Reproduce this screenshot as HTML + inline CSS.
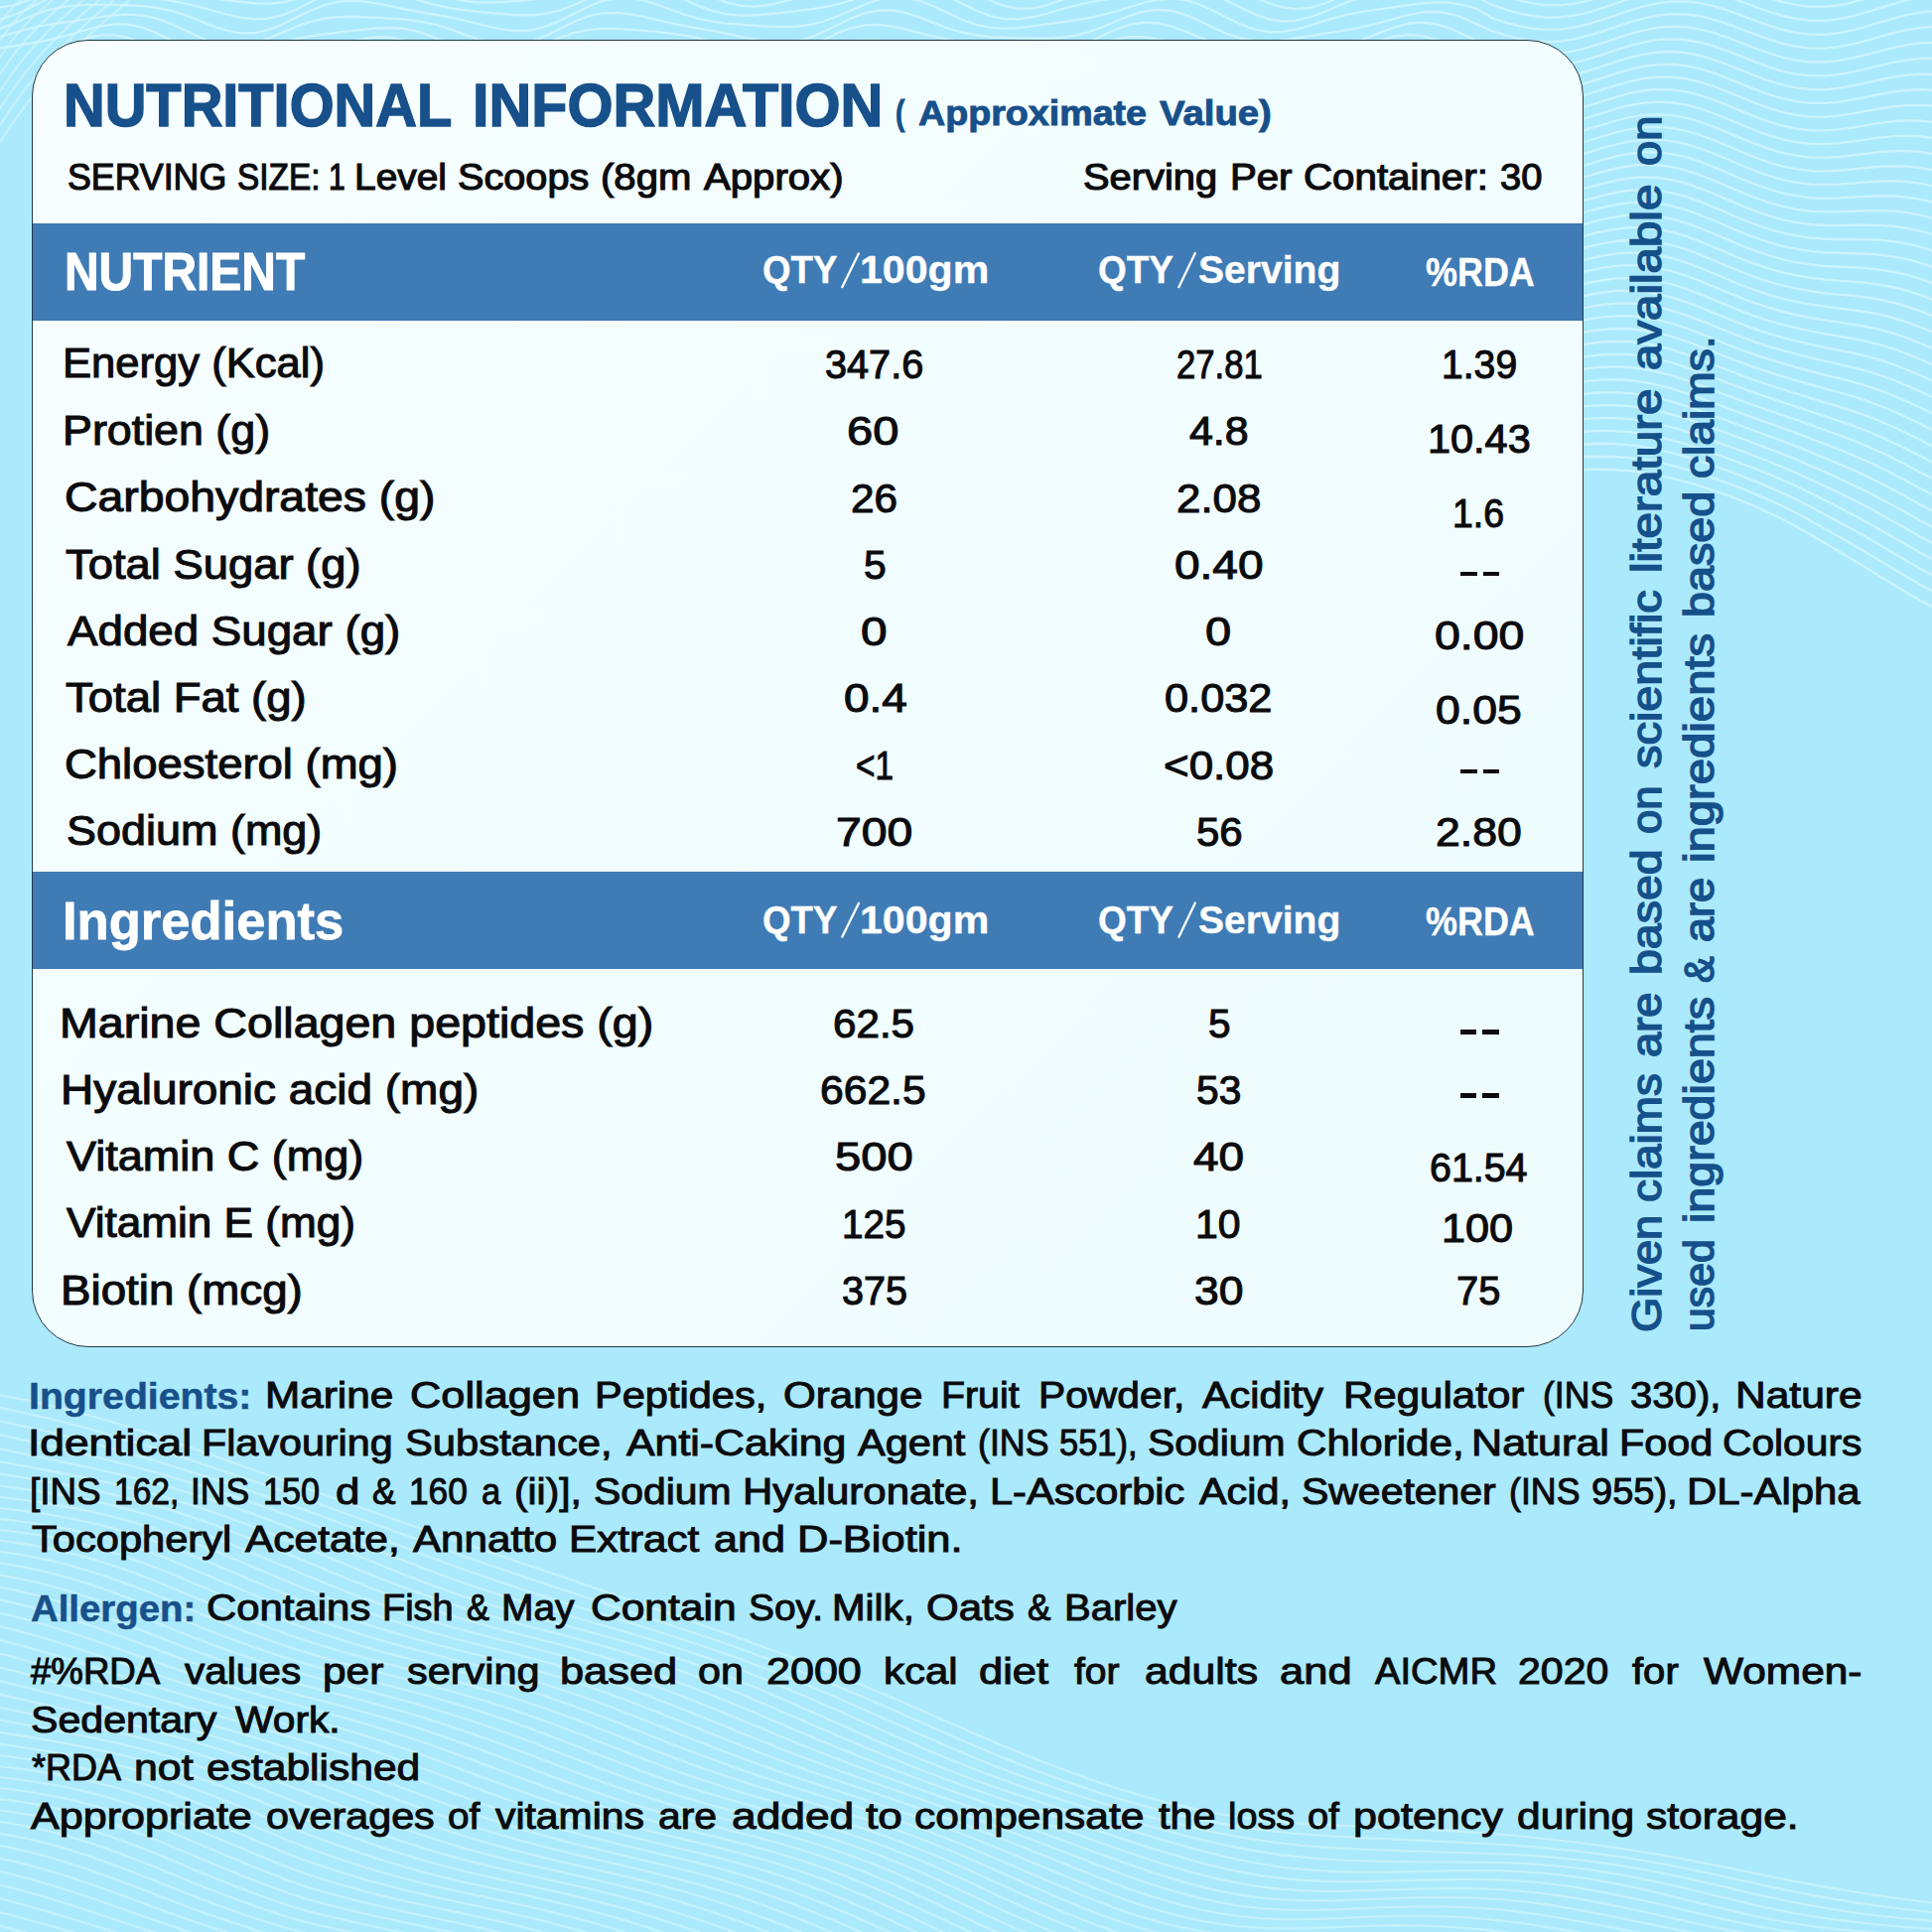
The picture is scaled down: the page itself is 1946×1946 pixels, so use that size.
<!DOCTYPE html>
<html><head><meta charset="utf-8"><title>Nutritional Information</title>
<style>
html,body{margin:0;padding:0}
body{width:1946px;height:1946px;position:relative;overflow:hidden;background:#abe9fc;font-family:"Liberation Sans",sans-serif;}
.wv{position:absolute;left:0;top:0}
.card{position:absolute;left:32.3px;top:40px;width:1560.4px;height:1315px;box-sizing:content-box;border:1.2px solid #1f3a45;border-radius:57px;overflow:hidden;
 background:linear-gradient(135deg,#f8feff 0%,#f2fdfe 40%,#eefcfe 100%);}
.band{position:absolute;left:0;width:100%;height:98.3px;background:#3f7bb5}
.t{position:absolute;white-space:pre;line-height:1;transform-origin:0 0;display:block;color:#0b0b0d;-webkit-text-stroke:1.1px currentColor}
.d{position:absolute;width:16.6px;height:4.4px;background:#0b0b0d;display:block}
</style></head><body>
<svg class="wv" width="1946" height="1946" viewBox="0 0 1946 1946">
<g fill="none" stroke="#d2f7ff" stroke-width="2.4">
<g opacity="0.8"><path d="M-10 -8.8 L4 -7.9 L18 -8.8 L32 -11.8 L46 -16.9 L60 -23.4 L74 -30.4 L88 -36.3 L102 -40.0 L116 -40.8 L130 -38.6 L144 -33.9 L158 -27.9 L172 -21.9 L186 -16.7 L200 -13.1 L214 -11.2 L228 -10.6 L242 -10.7 L256 -11.2 L270 -11.9 L284 -13.0 L298 -14.9 L312 -17.9 L326 -22.2 L340 -27.5 L354 -33.0 L368 -37.5 L382 -40.1 L396 -39.9 L410 -36.8 L424 -31.1 L438 -24.1 L452 -17.0 L466 -11.2 L480 -7.5 L494 -6.4 L508 -7.5 L522 -10.0 L536 -13.3 L550 -16.5 L564 -19.4 L578 -22.0 L592 -24.6 L606 -27.5 L620 -30.8 L634 -34.0 L648 -36.5 L662 -37.6 L676 -36.4 L690 -32.8 L704 -27.0 L718 -19.9 L732 -12.9 L746 -7.2 L760 -4.1 L774 -3.9 L788 -6.4 L802 -11.0 L816 -16.5 L830 -21.8 L844 -26.1 L858 -29.2 L872 -31.0 L886 -32.1 L900 -32.8 L914 -33.3 L928 -33.4 L942 -32.8 L956 -30.8 L970 -27.2 L984 -22.1 L998 -16.1 L1012 -10.1 L1026 -5.5 L1040 -3.2 L1054 -4.0 L1068 -7.7 L1082 -13.6 L1096 -20.6 L1110 -27.1 L1124 -32.3 L1138 -35.3 L1152 -36.1 L1166 -35.2 L1180 -33.3 L1194 -31.0 L1208 -28.7 L1222 -26.4 L1236 -23.9 L1250 -20.9 L1264 -17.2 L1278 -13.0 L1292 -9.0 L1306 -6.1 L1320 -5.1 L1334 -6.8 L1348 -11.1 L1362 -17.5 L1376 -24.8 L1390 -31.7 L1404 -36.9 L1418 -39.4 L1432 -39.1 L1446 -36.4 L1460 -32.1 L1474 -27.4 L1488 -22.9 L1502 -21.9 L1516 -17.0 L1530 -12.6 L1544 -9.3 L1558 -7.4 L1572 -7.1 L1586 -8.4 L1600 -11.3 L1614 -15.3 L1628 -20.0 L1642 -25.0 L1656 -29.6 L1670 -33.4 L1684 -36.0 L1698 -37.0 L1712 -36.3 L1726 -34.1 L1740 -30.6 L1754 -26.1 L1768 -21.1 L1782 -16.3 L1796 -12.0 L1810 -8.9 L1824 -7.2 L1838 -7.2 L1852 -8.8 L1866 -11.8 L1880 -15.9 L1894 -20.8 L1908 -25.7 L1922 -30.3 L1936 -33.9 L1950 -36.2"/><path d="M-10 7.3 L4 7.1 L18 4.2 L32 -1.2 L46 -8.2 L60 -15.5 L74 -21.6 L88 -25.6 L102 -26.8 L116 -25.3 L130 -21.9 L144 -17.4 L158 -13.0 L172 -9.1 L186 -6.1 L200 -3.8 L214 -1.8 L228 0.0 L242 1.8 L256 3.3 L270 3.7 L284 2.5 L298 -0.7 L312 -5.9 L326 -12.3 L340 -19.0 L354 -24.5 L368 -27.8 L382 -28.1 L396 -25.4 L410 -20.3 L424 -14.1 L438 -7.9 L452 -2.8 L466 0.6 L480 2.2 L494 2.4 L508 1.8 L522 0.8 L536 -0.4 L550 -1.8 L564 -3.8 L578 -6.9 L592 -11.1 L606 -16.1 L620 -21.2 L634 -25.3 L648 -27.3 L662 -26.7 L676 -23.1 L690 -17.2 L704 -10.1 L718 -3.1 L732 2.5 L746 5.8 L760 6.5 L774 5.0 L788 1.9 L802 -1.7 L816 -5.3 L830 -8.4 L844 -11.0 L858 -13.5 L872 -16.1 L886 -18.9 L900 -21.6 L914 -23.7 L928 -24.3 L942 -22.8 L956 -18.9 L970 -13.0 L984 -6.0 L998 0.8 L1012 6.1 L1026 8.8 L1040 8.5 L1054 5.4 L1068 0.4 L1082 -5.3 L1096 -10.8 L1110 -15.1 L1124 -18.0 L1138 -19.5 L1152 -20.2 L1166 -20.4 L1180 -20.4 L1194 -20.0 L1208 -19.0 L1222 -16.9 L1236 -13.2 L1250 -8.2 L1264 -2.4 L1278 3.2 L1292 7.3 L1306 9.1 L1320 7.8 L1334 3.7 L1348 -2.5 L1362 -9.6 L1376 -16.1 L1390 -21.0 L1404 -23.7 L1418 -24.1 L1432 -22.7 L1446 -20.3 L1460 -17.5 L1474 -14.9 L1488 -12.4 L1502 -8.6 L1516 -3.8 L1530 0.4 L1544 3.4 L1558 5.1 L1572 5.1 L1586 3.6 L1600 0.6 L1614 -3.6 L1628 -8.3 L1642 -13.2 L1656 -17.7 L1670 -21.3 L1684 -23.5 L1698 -24.2 L1712 -23.3 L1726 -20.7 L1740 -16.9 L1754 -12.2 L1768 -7.1 L1782 -2.2 L1796 2.0 L1810 5.1 L1824 6.8 L1838 6.8 L1852 5.3 L1866 2.3 L1880 -1.8 L1894 -6.4 L1908 -11.1 L1922 -15.3 L1936 -18.5 L1950 -20.5"/><path d="M-10 21.3 L4 18.7 L18 13.5 L32 6.8 L46 -0.0 L60 -5.8 L74 -9.6 L88 -11.2 L102 -10.7 L116 -8.9 L130 -6.5 L144 -4.0 L158 -1.6 L172 0.7 L186 3.4 L200 6.6 L214 10.4 L228 14.3 L242 17.6 L256 19.3 L270 18.7 L284 15.4 L298 9.8 L312 2.8 L326 -4.3 L340 -10.2 L354 -13.8 L368 -14.5 L382 -12.5 L396 -8.6 L410 -3.8 L424 0.9 L438 4.9 L452 7.9 L466 10.0 L480 11.6 L494 13.0 L508 14.3 L522 15.2 L536 15.2 L550 13.7 L564 10.3 L578 5.2 L592 -1.2 L606 -7.5 L620 -12.7 L634 -15.5 L648 -15.3 L662 -12.1 L676 -6.7 L690 -0.2 L704 6.1 L718 11.1 L732 14.3 L746 15.6 L760 15.3 L774 14.2 L788 12.7 L802 11.1 L816 9.4 L830 7.2 L844 4.1 L858 0.1 L872 -4.6 L886 -9.2 L900 -12.8 L914 -14.4 L928 -13.3 L942 -9.4 L956 -3.3 L970 3.9 L984 10.8 L998 16.2 L1012 19.1 L1026 19.3 L1040 17.3 L1054 13.8 L1068 9.7 L1082 5.9 L1096 2.6 L1110 0.0 L1124 -2.2 L1138 -4.5 L1152 -6.9 L1166 -9.1 L1180 -10.7 L1194 -10.9 L1208 -9.0 L1222 -4.9 L1236 1.0 L1250 7.8 L1264 14.4 L1278 19.3 L1292 21.5 L1306 20.7 L1320 17.2 L1334 11.8 L1348 5.8 L1362 0.2 L1376 -4.0 L1390 -6.7 L1404 -7.9 L1418 -8.1 L1432 -7.8 L1446 -7.3 L1460 -6.6 L1474 -5.3 L1488 -2.9 L1502 4.6 L1516 9.3 L1530 13.3 L1544 16.2 L1558 17.6 L1572 17.3 L1586 15.6 L1600 12.4 L1614 8.2 L1628 3.4 L1642 -1.4 L1656 -5.8 L1670 -9.1 L1684 -11.0 L1698 -11.4 L1712 -10.1 L1726 -7.3 L1740 -3.3 L1754 1.6 L1768 6.8 L1782 11.8 L1796 16.0 L1810 19.1 L1824 20.8 L1838 20.8 L1852 19.2 L1866 16.3 L1880 12.4 L1894 8.0 L1908 3.6 L1922 -0.3 L1936 -3.1 L1950 -4.6"/><path d="M-10 31.7 L4 27.3 L18 21.6 L32 15.8 L46 10.9 L60 7.5 L74 5.6 L88 4.9 L102 4.8 L116 5.0 L130 5.3 L144 6.1 L158 7.8 L172 10.7 L186 15.0 L200 20.4 L214 26.0 L228 30.7 L242 33.4 L256 33.3 L270 30.2 L284 24.8 L298 17.9 L312 11.0 L326 5.4 L340 1.8 L354 0.7 L368 1.6 L382 3.9 L396 6.8 L410 9.7 L424 12.3 L438 14.7 L452 17.3 L466 20.2 L480 23.7 L494 27.1 L508 29.9 L522 31.2 L536 30.2 L550 26.6 L564 20.9 L578 13.9 L592 6.9 L606 1.3 L620 -1.8 L634 -2.1 L648 0.4 L662 4.7 L676 9.9 L690 14.8 L704 18.9 L718 21.7 L732 23.6 L746 24.8 L760 25.8 L774 26.6 L788 27.0 L802 26.7 L816 24.9 L830 21.4 L844 16.2 L858 10.1 L872 4.1 L886 -0.6 L900 -3.0 L914 -2.3 L928 1.3 L942 7.1 L956 13.7 L970 20.1 L984 25.0 L998 27.9 L1012 28.7 L1026 28.0 L1040 26.4 L1054 24.4 L1068 22.5 L1082 20.5 L1096 18.2 L1110 15.2 L1124 11.4 L1138 7.1 L1152 2.9 L1166 -0.3 L1180 -1.4 L1194 0.1 L1208 4.3 L1222 10.6 L1236 17.9 L1250 24.6 L1264 29.7 L1278 32.2 L1292 32.0 L1306 29.4 L1320 25.5 L1334 21.0 L1348 17.0 L1362 13.7 L1376 11.1 L1390 9.1 L1404 7.2 L1418 5.3 L1432 3.5 L1446 2.4 L1460 2.7 L1474 4.8 L1488 9.0 L1502 17.8 L1516 22.4 L1530 26.2 L1544 28.8 L1558 30.0 L1572 29.5 L1586 27.5 L1600 24.2 L1614 19.9 L1628 15.1 L1642 10.4 L1656 6.2 L1670 3.2 L1684 1.5 L1698 1.4 L1712 3.0 L1726 6.1 L1740 10.4 L1754 15.5 L1768 20.8 L1782 25.8 L1796 30.0 L1810 33.1 L1824 34.7 L1838 34.7 L1852 33.2 L1866 30.4 L1880 26.6 L1894 22.4 L1908 18.3 L1922 14.8 L1936 12.3 L1950 11.2"/><path d="M-10 40.0 L4 35.9 L18 31.8 L32 28.2 L46 25.4 L60 23.2 L74 21.2 L88 19.1 L102 17.0 L116 15.3 L130 14.6 L144 15.6 L158 18.7 L172 23.9 L186 30.3 L200 37.0 L214 42.6 L228 45.8 L242 46.2 L256 43.6 L270 38.8 L284 32.8 L298 26.8 L312 22.0 L326 18.8 L340 17.2 L354 16.8 L368 17.2 L382 17.9 L396 18.7 L410 19.8 L424 21.7 L438 24.7 L452 28.9 L466 34.0 L480 39.2 L494 43.5 L508 45.7 L522 45.1 L536 41.7 L550 35.9 L564 28.9 L578 22.1 L592 16.6 L606 13.4 L620 12.7 L634 14.1 L648 16.9 L662 20.2 L676 23.4 L690 26.2 L704 28.7 L718 31.1 L732 33.8 L746 36.8 L760 39.8 L774 42.1 L788 42.9 L802 41.6 L816 37.8 L830 31.9 L844 25.0 L858 18.2 L872 13.0 L886 10.3 L900 10.5 L914 13.4 L928 18.2 L942 23.6 L956 28.8 L970 32.8 L984 35.5 L998 37.1 L1012 37.9 L1026 38.4 L1040 38.7 L1054 38.7 L1068 38.0 L1082 36.0 L1096 32.4 L1110 27.3 L1124 21.5 L1138 15.8 L1152 11.5 L1166 9.7 L1180 10.8 L1194 14.8 L1208 20.9 L1222 27.7 L1236 34.0 L1250 38.8 L1264 41.3 L1278 41.8 L1292 40.6 L1306 38.5 L1320 36.1 L1334 33.8 L1348 31.6 L1362 29.2 L1376 26.4 L1390 22.8 L1404 18.9 L1418 15.1 L1432 12.5 L1446 11.8 L1460 13.7 L1474 18.2 L1488 24.6 L1502 31.0 L1516 35.4 L1530 39.1 L1544 41.4 L1558 42.3 L1572 41.6 L1586 39.4 L1600 35.9 L1614 31.6 L1628 26.8 L1642 22.2 L1656 18.3 L1670 15.4 L1684 14.1 L1698 14.3 L1712 16.2 L1726 19.6 L1740 24.1 L1754 29.3 L1768 34.7 L1782 39.7 L1796 44.0 L1810 47.0 L1824 48.6 L1838 48.6 L1852 47.1 L1866 44.4 L1880 40.8 L1894 36.8 L1908 33.0 L1922 29.9 L1936 27.8 L1950 27.1"/><path d="M-10 49.8 L4 47.7 L18 45.7 L32 43.5 L46 41.0 L60 37.7 L74 33.8 L88 29.6 L102 26.2 L116 24.3 L130 24.7 L144 27.9 L158 33.4 L172 40.3 L186 47.3"/><path d="M270 47.4 L284 43.0 L298 39.3 L312 36.5 L326 34.5 L340 32.8 L354 31.1 L368 29.5 L382 28.3 L396 28.0 L410 29.3 L424 32.6 L438 37.8 L452 44.1"/><path d="M550 43.9 L564 37.9 L578 33.1 L592 30.1 L606 28.8 L620 28.9 L634 29.8 L648 30.9 L662 32.1 L676 33.6 L690 35.6 L704 38.6 L718 42.7 L732 47.5"/><path d="M816 47.1 L830 40.0 L844 33.2 L858 28.0 L872 25.2 L886 24.9 L900 26.8 L914 30.0 L928 33.7 L942 37.2 L956 40.1 L970 42.6 L984 44.8 L998 47.2 L1012 49.8"/><path d="M1082 48.9 L1096 43.0 L1110 36.1 L1124 29.6 L1138 24.8 L1152 22.5 L1166 23.2 L1180 26.6 L1194 31.7 L1208 37.5 L1222 42.7 L1236 46.7 L1250 49.3"/><path d="M1334 49.3 L1348 47.1 L1362 43.5 L1376 38.5 L1390 32.9 L1404 27.6 L1418 23.8 L1432 22.5 L1446 24.1 L1460 28.4 L1474 34.7 L1488 41.6 L1502 44.1 L1516 48.5"/><path d="M1572 53.7 L1586 51.3 L1600 47.7 L1614 43.3 L1628 38.6 L1642 34.1 L1656 30.3 L1670 27.8 L1684 26.7 L1698 27.2 L1712 29.4 L1726 33.0 L1740 37.7 L1754 43.1 L1768 48.6 L1782 53.7 L1796 57.9 L1810 60.9 L1824 62.5 L1838 62.5 L1852 61.1 L1866 58.4 L1880 55.0 L1894 51.3 L1908 47.8 L1922 45.0 L1936 43.3 L1950 43.1"/><path d="M60 48.7 L74 43.0 L88 38.2 L102 35.4 L116 35.4 L130 38.3 L144 43.7"/><path d="M326 49.0 L340 45.5 L354 41.8 L368 38.7 L382 37.3 L396 38.2 L410 41.6 L424 47.3"/><path d="M578 47.7 L592 45.8 L606 44.5 L620 43.3 L634 42.2 L648 41.4 L662 41.5 L676 43.1 L690 46.6"/><path d="M830 49.0 L844 44.3 L858 41.5 L872 40.6 L886 41.2 L900 42.5 L914 44.1 L928 45.7 L942 47.4 L956 49.5"/><path d="M1110 44.4 L1124 39.5 L1138 37.0 L1152 37.2 L1166 39.6 L1180 43.2 L1194 47.3"/><path d="M1376 47.4 L1390 41.2 L1404 36.7 L1418 34.9 L1432 36.1 L1446 39.9 L1460 45.4"/><path d="M1572 65.8 L1586 63.2 L1600 59.5 L1614 55.0 L1628 50.3 L1642 46.0 L1656 42.4 L1670 40.1 L1684 39.3 L1698 40.2 L1712 42.7 L1726 46.5 L1740 51.4 L1754 56.9 L1768 62.4 L1782 67.5 L1796 71.8 L1810 74.8 L1824 76.3 L1838 76.4 L1852 75.0 L1866 72.4 L1880 69.2 L1894 65.8 L1908 62.6 L1922 60.2 L1936 58.9 L1950 59.0"/><path d="M88 48.2 L102 47.8"/><path d="M368 48.1 L382 48.5"/><path d="M1404 49.0 L1418 49.7"/><path d="M1572 77.8 L1586 75.0 L1600 71.2 L1614 66.7 L1628 62.1 L1642 57.9 L1656 54.6 L1670 52.5 L1684 52.0 L1698 53.2 L1712 55.9 L1726 60.0 L1740 65.1 L1754 70.7 L1768 76.3 L1782 81.4 L1796 85.6 L1810 88.6 L1824 90.1 L1838 90.2 L1852 88.8 L1866 86.4 L1880 83.4 L1894 80.2 L1908 77.4 L1922 75.4 L1936 74.5 L1950 75.1"/><path d="M1572 89.8 L1586 86.9 L1600 83.0 L1614 78.5 L1628 73.9 L1642 69.9 L1656 66.8 L1670 65.0 L1684 64.8 L1698 66.2 L1712 69.2 L1726 73.5 L1740 78.8 L1754 84.4 L1768 90.1 L1782 95.2 L1796 99.4 L1810 102.3 L1824 103.9 L1838 103.9 L1852 102.7 L1866 100.4 L1880 97.6 L1894 94.8 L1908 92.3 L1922 90.7 L1936 90.2 L1950 91.1"/><path d="M1572 101.8 L1586 98.7 L1600 94.7 L1614 90.2 L1628 85.8 L1642 81.9 L1656 79.0 L1670 77.5 L1684 77.6 L1698 79.3 L1712 82.5 L1726 87.0 L1740 92.4 L1754 98.2 L1768 103.9 L1782 109.0 L1796 113.1 L1810 116.0 L1824 117.6 L1838 117.7 L1852 116.5 L1866 114.4 L1880 111.9 L1894 109.3 L1908 107.2 L1922 106.0 L1936 105.9 L1950 107.2"/><path d="M1572 113.7 L1586 110.5 L1600 106.4 L1614 102.0 L1628 97.6 L1642 93.9 L1656 91.2 L1670 90.0 L1684 90.4 L1698 92.4 L1712 95.9 L1726 100.6 L1740 106.1 L1754 111.9 L1768 117.6 L1782 122.7 L1796 126.8 L1810 129.7 L1824 131.3 L1838 131.4 L1852 130.4 L1866 128.5 L1880 126.1 L1894 123.9 L1908 122.1 L1922 121.3 L1936 121.7 L1950 123.4"/><path d="M1572 125.6 L1586 122.3 L1600 118.2 L1614 113.8 L1628 109.5 L1642 106.0 L1656 103.6 L1670 102.6 L1684 103.2 L1698 105.5 L1712 109.2 L1726 114.1 L1740 119.7 L1754 125.6 L1768 131.3 L1782 136.4 L1796 140.5 L1810 143.3 L1824 144.9 L1838 145.1 L1852 144.2 L1866 142.5 L1880 140.4 L1894 138.5 L1908 137.1 L1922 136.7 L1936 137.5 L1950 139.6"/><path d="M1572 137.5 L1586 134.1 L1600 129.9 L1614 125.6 L1628 121.4 L1642 118.1 L1656 115.9 L1670 115.2 L1684 116.1 L1698 118.6 L1712 122.6 L1726 127.6 L1740 133.3 L1754 139.3 L1768 145.0 L1782 150.0 L1796 154.1 L1810 156.9 L1824 158.5 L1838 158.8 L1852 158.0 L1866 156.5 L1880 154.7 L1894 153.1 L1908 152.1 L1922 152.1 L1936 153.3 L1950 155.8"/><path d="M1572 149.4 L1586 145.8 L1600 141.7 L1614 137.4 L1628 133.4 L1642 130.2 L1656 128.3 L1670 127.9 L1684 129.1 L1698 131.8 L1712 135.9 L1726 141.1 L1740 146.9 L1754 152.9 L1768 158.6 L1782 163.6 L1796 167.6 L1810 170.4 L1824 172.1 L1838 172.5 L1852 171.8 L1866 170.5 L1880 169.0 L1894 167.8 L1908 167.2 L1922 167.6 L1936 169.2 L1950 172.0"/><path d="M1572 161.2 L1586 157.6 L1600 153.5 L1614 149.2 L1628 145.4 L1642 142.4 L1656 140.8 L1670 140.6 L1684 142.1 L1698 145.0 L1712 149.3 L1726 154.6 L1740 160.5 L1754 166.5 L1768 172.2 L1782 177.2 L1796 181.1 L1810 184.0 L1824 185.7 L1838 186.1 L1852 185.6 L1866 184.6 L1880 183.4 L1894 182.5 L1908 182.3 L1922 183.1 L1936 185.1 L1950 188.3"/><path d="M1572 173.1 L1586 169.4 L1600 165.3 L1614 161.1 L1628 157.4 L1642 154.7 L1656 153.3 L1670 153.4 L1684 155.1 L1698 158.2 L1712 162.7 L1726 168.1 L1740 174.1 L1754 180.1 L1768 185.7 L1782 190.7 L1796 194.6 L1810 197.4 L1824 199.2 L1838 199.8 L1852 199.5 L1866 198.6 L1880 197.7 L1894 197.3 L1908 197.5 L1922 198.7 L1936 201.1 L1950 204.6"/><path d="M1572 184.9 L1586 181.2 L1600 177.1 L1614 173.0 L1628 169.5 L1642 167.0 L1656 165.8 L1670 166.2 L1684 168.1 L1698 171.5 L1712 176.1 L1726 181.6 L1740 187.6 L1754 193.6 L1768 199.2 L1782 204.1 L1796 208.0 L1810 210.9 L1824 212.7 L1838 213.4 L1852 213.3 L1866 212.7 L1880 212.2 L1894 212.1 L1908 212.7 L1922 214.3 L1936 217.1 L1950 221.0"/><path d="M1572 196.7 L1586 193.0 L1600 188.9 L1614 185.0 L1628 181.7 L1642 179.3 L1656 178.4 L1670 179.0 L1684 181.2 L1698 184.7 L1712 189.5 L1726 195.1 L1740 201.1 L1754 207.1 L1768 212.7 L1782 217.5 L1796 221.4 L1810 224.2 L1824 226.2 L1838 227.0 L1852 227.1 L1866 226.8 L1880 226.6 L1894 226.9 L1908 227.9 L1922 230.0 L1936 233.1 L1950 237.4"/><path d="M1572 208.5 L1586 204.8 L1600 200.8 L1614 197.0 L1628 193.8 L1642 191.7 L1656 191.1 L1670 191.9 L1684 194.3 L1698 198.0 L1712 202.9 L1726 208.6 L1740 214.6 L1754 220.6 L1768 226.1 L1782 230.9 L1796 234.7 L1810 237.6 L1824 239.6 L1838 240.7 L1852 241.0 L1866 241.0 L1880 241.1 L1894 241.8 L1908 243.2 L1922 245.7 L1936 249.2 L1950 253.8"/><path d="M1572 220.4 L1586 216.6 L1600 212.7 L1614 209.0 L1628 206.0 L1642 204.2 L1656 203.7 L1670 204.8 L1684 207.4 L1698 211.3 L1712 216.3 L1726 222.0 L1740 228.0 L1754 234.0 L1768 239.4 L1782 244.2 L1796 248.0 L1810 250.9 L1824 253.1 L1838 254.3 L1852 254.8 L1866 255.2 L1880 255.7 L1894 256.7 L1908 258.6 L1922 261.4 L1936 265.3 L1950 270.2"/><path d="M1572 232.2 L1586 228.4 L1600 224.6 L1614 221.1 L1628 218.3 L1642 216.7 L1656 216.5 L1670 217.8 L1684 220.5 L1698 224.6 L1712 229.6 L1726 235.4 L1740 241.4 L1754 247.3 L1768 252.7 L1782 257.4 L1796 261.3 L1810 264.3 L1824 266.5 L1838 267.9 L1852 268.7 L1866 269.4 L1880 270.2 L1894 271.7 L1908 274.0 L1922 277.2 L1936 281.5 L1950 286.6"/><path d="M1572 244.0 L1586 240.3 L1600 236.5 L1614 233.2 L1628 230.6 L1642 229.2 L1656 229.2 L1670 230.8 L1684 233.7 L1698 237.8 L1712 243.0 L1726 248.8 L1740 254.8 L1754 260.6 L1768 266.0 L1782 270.7 L1796 274.5 L1810 277.5 L1824 279.9 L1838 281.5 L1852 282.6 L1866 283.6 L1880 284.9 L1894 286.8 L1908 289.5 L1922 293.1 L1936 297.7 L1950 303.1"/><path d="M1572 255.8 L1586 252.2 L1600 248.5 L1614 245.4 L1628 243.0 L1642 241.8 L1656 242.1 L1670 243.8 L1684 246.9 L1698 251.1 L1712 256.3 L1726 262.1 L1740 268.1 L1754 273.9 L1768 279.2 L1782 283.8 L1796 287.7 L1810 290.8 L1824 293.3 L1838 295.2 L1852 296.6 L1866 297.9 L1880 299.5 L1894 301.8 L1908 305.0 L1922 309.0 L1936 313.9 L1950 319.6"/><path d="M1572 267.7 L1586 264.1 L1600 260.6 L1614 257.6 L1628 255.4 L1642 254.5 L1656 254.9 L1670 256.8 L1684 260.0 L1698 264.4 L1712 269.6 L1726 275.4 L1740 281.3 L1754 287.1 L1768 292.3 L1782 297.0 L1796 300.8 L1810 304.1 L1824 306.8 L1838 308.8 L1852 310.6 L1866 312.2 L1880 314.3 L1894 317.0 L1908 320.5 L1922 324.9 L1936 330.1 L1950 336.0"/><path d="M1572 279.5 L1586 276.0 L1600 272.7 L1614 269.9 L1628 267.9 L1642 267.1 L1656 267.8 L1670 269.9 L1684 273.2 L1698 277.7 L1712 282.9 L1726 288.7 L1740 294.5 L1754 300.2 L1768 305.4 L1782 310.0 L1796 314.0 L1810 317.3 L1824 320.2 L1838 322.5 L1852 324.6 L1866 326.6 L1880 329.0 L1894 332.2 L1908 336.1 L1922 340.8 L1936 346.3 L1950 352.5"/><path d="M1572 291.4 L1586 288.0 L1600 284.8 L1614 282.2 L1628 280.4 L1642 279.9 L1656 280.7 L1670 282.9 L1684 286.4 L1698 290.9 L1712 296.2 L1726 301.9 L1740 307.7 L1754 313.3 L1768 318.5 L1782 323.1 L1796 327.1 L1810 330.5 L1824 333.6 L1838 336.2 L1852 338.6 L1866 341.0 L1880 343.9 L1894 347.4 L1908 351.7 L1922 356.8 L1936 362.6 L1950 369.0"/><path d="M1572 303.3 L1586 300.0 L1600 297.0 L1614 294.5 L1628 293.0 L1642 292.7 L1656 293.7 L1670 296.0 L1684 299.6 L1698 304.1 L1712 309.4 L1726 315.1 L1740 320.8 L1754 326.4 L1768 331.5 L1782 336.1 L1796 340.1 L1810 343.7 L1824 347.1 L1838 350.0 L1852 352.7 L1866 355.5 L1880 358.8 L1894 362.7 L1908 367.4 L1922 372.8 L1936 378.9 L1950 385.5"/><path d="M1572 315.3 L1586 312.1 L1600 309.2 L1614 307.0 L1628 305.6 L1642 305.5 L1656 306.7 L1670 309.1 L1684 312.8 L1698 317.3 L1712 322.6 L1726 328.2 L1740 333.9 L1754 339.4 L1768 344.5 L1782 349.1 L1796 353.2 L1810 356.9 L1824 360.5 L1838 363.7 L1852 366.8 L1866 370.0 L1880 373.7 L1894 378.0 L1908 383.1 L1922 388.8 L1936 395.2 L1950 401.9"/><path d="M1572 327.2 L1586 324.2 L1600 321.5 L1614 319.4 L1628 318.3 L1642 318.3 L1656 319.7 L1670 322.3 L1684 325.9 L1698 330.5 L1712 335.7 L1726 341.3 L1740 346.9 L1754 352.3 L1768 357.4 L1782 362.0 L1796 366.2 L1810 370.2 L1824 374.0 L1838 377.6 L1852 381.0 L1866 384.6 L1880 388.7 L1894 393.4 L1908 398.9 L1922 404.9 L1936 411.5 L1950 418.4"/><path d="M1572 339.3 L1586 336.3 L1600 333.8 L1614 332.0 L1628 331.0 L1642 331.2 L1656 332.7 L1670 335.4 L1684 339.1 L1698 343.6 L1712 348.8 L1726 354.3 L1740 359.8 L1754 365.2 L1768 370.3 L1782 374.9 L1796 379.3 L1810 383.4 L1824 387.5 L1838 391.4 L1852 395.2 L1866 399.2 L1880 403.7 L1894 408.9 L1908 414.6 L1922 421.0 L1936 427.8 L1950 434.8"/><path d="M1572 351.3 L1586 348.5 L1600 346.2 L1614 344.5 L1628 343.8 L1642 344.1 L1656 345.7 L1670 348.5 L1684 352.2 L1698 356.8 L1712 361.9 L1726 367.3 L1740 372.7 L1754 378.1 L1768 383.1 L1782 387.8 L1796 392.3 L1810 396.6 L1824 401.0 L1838 405.3 L1852 409.5 L1866 413.9 L1880 418.8 L1894 424.3 L1908 430.5 L1922 437.1 L1936 444.0 L1950 451.2"/><path d="M1572 363.4 L1586 360.8 L1600 358.6 L1614 357.2 L1628 356.6 L1642 357.1 L1656 358.8 L1670 361.6 L1684 365.3 L1698 369.8 L1712 374.9 L1726 380.2 L1740 385.6 L1754 390.9 L1768 395.9 L1782 400.7 L1796 405.3 L1810 409.9 L1824 414.6 L1838 419.2 L1852 423.8 L1866 428.6 L1880 433.9 L1894 439.8 L1908 446.3 L1922 453.2 L1936 460.3 L1950 467.6"/><path d="M1572 375.5 L1586 373.1 L1600 371.1 L1614 369.8 L1628 369.4 L1642 370.0 L1656 371.8 L1670 374.7 L1684 378.4 L1698 382.9 L1712 387.8 L1726 393.1 L1740 398.4 L1754 403.6 L1768 408.7 L1782 413.6 L1796 418.4 L1810 423.2 L1824 428.2 L1838 433.2 L1852 438.2 L1866 443.4 L1880 449.1 L1894 455.4 L1908 462.2 L1922 469.3 L1936 476.6 L1950 484.0"/><path d="M1572 387.7 L1586 385.4 L1600 383.7 L1614 382.6 L1628 382.3 L1642 383.0 L1656 384.9 L1670 387.8 L1684 391.5 L1698 395.8 L1712 400.7 L1726 405.9 L1740 411.1 L1754 416.3 L1768 421.4 L1782 426.4 L1796 431.4 L1810 436.5 L1824 441.9 L1838 447.2 L1852 452.6 L1866 458.3 L1880 464.4 L1894 471.0 L1908 478.0 L1922 485.4 L1936 492.8 L1950 500.3"/><path d="M1572 400.0 L1586 397.9 L1600 396.3 L1614 395.3 L1628 395.2 L1642 396.1 L1656 398.0 L1670 400.8 L1684 404.5 L1698 408.8 L1712 413.6 L1726 418.6 L1740 423.8 L1754 429.0 L1768 434.2 L1782 439.3 L1796 444.4 L1810 449.8 L1824 455.5 L1838 461.3 L1852 467.1 L1866 473.2 L1880 479.6 L1894 486.6 L1908 493.9 L1922 501.5 L1936 509.1 L1950 516.6"/><path d="M1572 412.3 L1586 410.3 L1600 408.9 L1614 408.2 L1628 408.2 L1642 409.1 L1656 411.0 L1670 413.9 L1684 417.5 L1698 421.7 L1712 426.4 L1726 431.3 L1740 436.5 L1754 441.6 L1768 446.9 L1782 452.1 L1796 457.5 L1810 463.2 L1824 469.3 L1838 475.4 L1852 481.6 L1866 488.1 L1880 494.9 L1894 502.2 L1908 509.8 L1922 517.5 L1936 525.3 L1950 532.8"/><path d="M1572 424.6 L1586 422.9 L1600 421.6 L1614 421.0 L1628 421.1 L1642 422.1 L1656 424.1 L1670 426.9 L1684 430.4 L1698 434.5 L1712 439.1 L1726 444.0 L1740 449.1 L1754 454.2 L1768 459.5 L1782 465.0 L1796 470.6 L1810 476.6 L1824 483.0 L1838 489.6 L1852 496.3 L1866 503.1 L1880 510.3 L1894 517.9 L1908 525.7 L1922 533.6 L1936 541.4 L1950 549.0"/><path d="M1572 437.0 L1586 435.5 L1600 434.4 L1614 433.9 L1628 434.1 L1642 435.1 L1656 437.1 L1670 439.9 L1684 443.3 L1698 447.3 L1712 451.8 L1726 456.6 L1740 461.6 L1754 466.8 L1768 472.2 L1782 477.8 L1796 483.7 L1810 490.0 L1824 496.9 L1838 503.9 L1852 510.9 L1866 518.2 L1880 525.7 L1894 533.6 L1908 541.7 L1922 549.7 L1936 557.6 L1950 565.2"/><path d="M1572 449.5 L1586 448.1 L1600 447.2 L1614 446.8 L1628 447.1 L1642 448.2 L1656 450.1 L1670 452.8 L1684 456.1 L1698 460.0 L1712 464.4 L1726 469.1 L1740 474.1 L1754 479.4 L1768 484.9 L1782 490.7 L1796 496.8 L1810 503.5 L1824 510.8 L1838 518.2 L1852 525.6 L1866 533.3 L1880 541.1 L1894 549.3 L1908 557.6 L1922 565.7 L1936 573.7 L1950 581.3"/><path d="M1572 462.0 L1586 460.8 L1600 460.0 L1614 459.8 L1628 460.1 L1642 461.2 L1656 463.1 L1670 465.7 L1684 468.9 L1698 472.7 L1712 476.9 L1726 481.6 L1740 486.6 L1754 491.9 L1768 497.6 L1782 503.6 L1796 510.0 L1810 517.0 L1824 524.7 L1838 532.5 L1852 540.4 L1866 548.4 L1880 556.6 L1894 565.0 L1908 573.5 L1922 581.7 L1936 589.7 L1950 597.3"/><path d="M1572 474.6 L1586 473.5 L1600 472.9 L1614 472.8 L1628 473.2 L1642 474.2 L1656 476.0 L1670 478.6 L1684 481.7 L1698 485.3 L1712 489.4 L1726 494.0 L1740 499.0 L1754 504.4 L1768 510.2 L1782 516.5 L1796 523.2 L1810 530.6 L1824 538.7 L1838 546.9 L1852 555.2 L1866 563.6 L1880 572.1 L1894 580.7 L1908 589.3 L1922 597.7 L1936 605.7 L1950 613.3"/></g>
<g opacity="0.62"><path d="M-10 1403.5 L10 1407.1 L30 1411.1 L50 1415.5 L70 1420.3 L90 1425.6 L110 1431.3 L130 1437.3 L150 1443.7 L170 1450.4 L190 1457.5 L210 1464.5 L230 1471.5 L250 1478.6 L270 1485.6 L290 1492.6 L310 1499.6 L330 1506.7 L350 1513.9 L370 1520.9 L390 1527.9 L410 1534.9 L430 1541.8 L450 1548.7 L470 1555.5 L490 1562.3 L510 1569.0 L530 1575.8 L550 1582.6 L570 1589.4 L590 1596.3 L610 1603.2 L630 1610.1 L650 1617.1 L670 1624.0 L690 1631.0 L710 1637.9 L730 1644.9 L750 1652.0 L770 1659.3 L790 1666.7 L810 1674.2 L830 1682.0 L850 1689.9 L870 1698.0 L890 1706.4 L910 1714.9 L930 1723.6 L950 1732.3 L970 1741.0 L990 1749.8 L1010 1758.3 L1030 1766.4 L1050 1774.3 L1070 1782.0 L1090 1789.3 L1110 1796.3 L1130 1802.8 L1150 1808.7 L1170 1814.1 L1190 1819.0 L1210 1823.4 L1230 1827.2 L1250 1830.4 L1270 1833.0 L1290 1835.0 L1310 1836.6 L1330 1837.8 L1350 1838.8 L1370 1839.6 L1390 1840.4 L1410 1841.4 L1430 1842.4 L1450 1843.5 L1470 1844.8 L1490 1846.1 L1510 1847.6 L1530 1849.4 L1550 1851.4 L1570 1853.6 L1590 1856.0 L1610 1858.6 L1630 1861.5 L1650 1864.6 L1670 1867.9 L1690 1871.5 L1710 1875.3 L1730 1879.2 L1750 1883.3 L1770 1887.4 L1790 1891.5 L1810 1895.3 L1830 1899.0 L1850 1902.6 L1870 1905.9 L1890 1909.0 L1910 1911.9 L1930 1914.6 L1950 1917.1"/><path d="M-10 1416.1 L10 1420.0 L30 1424.3 L50 1428.9 L70 1433.9 L90 1439.2 L110 1444.9 L130 1450.8 L150 1456.9 L170 1463.3 L190 1470.0 L210 1476.7 L230 1483.4 L250 1490.1 L270 1496.9 L290 1503.8 L310 1510.8 L330 1517.9 L350 1525.1 L370 1532.4 L390 1539.7 L410 1546.9 L430 1554.2 L450 1561.3 L470 1568.4 L490 1575.4 L510 1582.2 L530 1589.0 L550 1595.7 L570 1602.3 L590 1608.9 L610 1615.5 L630 1622.0 L650 1628.6 L670 1635.2 L690 1641.8 L710 1648.4 L730 1655.2 L750 1662.3 L770 1669.6 L790 1677.1 L810 1684.8 L830 1692.8 L850 1701.1 L870 1709.5 L890 1718.2 L910 1727.0 L930 1735.9 L950 1744.6 L970 1753.4 L990 1762.0 L1010 1770.3 L1030 1778.2 L1050 1785.8 L1070 1793.0 L1090 1800.0 L1110 1806.6 L1130 1812.7 L1150 1818.4 L1170 1823.7 L1190 1828.5 L1210 1832.8 L1230 1836.7 L1250 1840.1 L1270 1843.0 L1290 1845.4 L1310 1847.2 L1330 1848.7 L1350 1850.0 L1370 1851.0 L1390 1851.9 L1410 1852.9 L1430 1853.8 L1450 1854.8 L1470 1855.7 L1490 1856.7 L1510 1857.8 L1530 1859.2 L1550 1860.8 L1570 1862.7 L1590 1864.8 L1610 1867.3 L1630 1870.0 L1650 1873.1 L1670 1876.6 L1690 1880.4 L1710 1884.4 L1730 1888.7 L1750 1893.1 L1770 1897.5 L1790 1901.8 L1810 1905.9 L1830 1909.7 L1850 1913.2 L1870 1916.5 L1890 1919.4 L1910 1922.0 L1930 1924.4 L1950 1926.6"/><path d="M-10 1429.4 L10 1433.5 L30 1438.0 L50 1442.7 L70 1447.6 L90 1452.8 L110 1458.1 L130 1463.7 L150 1469.5 L170 1475.5 L190 1481.9 L210 1488.2 L230 1494.6 L250 1501.2 L270 1507.9 L290 1514.9 L310 1522.0 L330 1529.4 L350 1536.9 L370 1544.5 L390 1552.1 L410 1559.7 L430 1567.2 L450 1574.6 L470 1581.8 L490 1588.7 L510 1595.5 L530 1602.1 L550 1608.5 L570 1614.8 L590 1620.9 L610 1627.1 L630 1633.2 L650 1639.4 L670 1645.7 L690 1652.1 L710 1658.7 L730 1665.5 L750 1672.7 L770 1680.2 L790 1688.0 L810 1696.1 L830 1704.4 L850 1713.0 L870 1721.8 L890 1730.6 L910 1739.5 L930 1748.4 L950 1757.1 L970 1765.6 L990 1774.0 L1010 1781.9 L1030 1789.4 L1050 1796.5 L1070 1803.3 L1090 1809.9 L1110 1816.2 L1130 1822.2 L1150 1827.8 L1170 1833.1 L1190 1838.0 L1210 1842.6 L1230 1846.8 L1250 1850.5 L1270 1853.8 L1290 1856.4 L1310 1858.6 L1330 1860.3 L1350 1861.7 L1370 1862.6 L1390 1863.5 L1410 1864.3 L1430 1864.9 L1450 1865.5 L1470 1866.0 L1490 1866.6 L1510 1867.3 L1530 1868.3 L1550 1869.6 L1570 1871.3 L1590 1873.4 L1610 1875.8 L1630 1878.8 L1650 1882.1 L1670 1885.8 L1690 1889.9 L1710 1894.3 L1730 1898.9 L1750 1903.6 L1770 1908.3 L1790 1912.6 L1810 1916.7 L1830 1920.4 L1850 1923.7 L1870 1926.7 L1890 1929.2 L1910 1931.5 L1930 1933.5 L1950 1935.3"/><path d="M-10 1443.2 L10 1447.5 L30 1451.9 L50 1456.4 L70 1461.1 L90 1465.8 L110 1470.8 L130 1475.9 L150 1481.3 L170 1486.9 L190 1493.0 L210 1499.1 L230 1505.5 L250 1512.1 L270 1519.0 L290 1526.2 L310 1533.7 L330 1541.4 L350 1549.4 L370 1557.4 L390 1565.3 L410 1573.2 L430 1580.9 L450 1588.3 L470 1595.4 L490 1602.1 L510 1608.5 L530 1614.7 L550 1620.7 L570 1626.5 L590 1632.2 L610 1637.9 L630 1643.7 L650 1649.7 L670 1655.8 L690 1662.3 L710 1669.0 L730 1676.0 L750 1683.5 L770 1691.4 L790 1699.6 L810 1708.1 L830 1716.8 L850 1725.6 L870 1734.5 L890 1743.4 L910 1752.2 L930 1760.9 L950 1769.3 L970 1777.4 L990 1785.3 L1010 1792.7 L1030 1799.8 L1050 1806.5 L1070 1813.0 L1090 1819.3 L1110 1825.5 L1130 1831.5 L1150 1837.2 L1170 1842.7 L1190 1848.0 L1210 1853.0 L1230 1857.6 L1250 1861.7 L1270 1865.3 L1290 1868.2 L1310 1870.5 L1330 1872.3 L1350 1873.5 L1370 1874.3 L1390 1874.8 L1410 1875.2 L1430 1875.4 L1450 1875.4 L1470 1875.5 L1490 1875.7 L1510 1876.1 L1530 1876.8 L1550 1878.0 L1570 1879.7 L1590 1881.9 L1610 1884.7 L1630 1887.9 L1650 1891.6 L1670 1895.7 L1690 1900.2 L1710 1905.0 L1730 1909.8 L1750 1914.6 L1770 1919.4 L1790 1923.7 L1810 1927.5 L1830 1930.9 L1850 1933.8 L1870 1936.3 L1890 1938.4 L1910 1940.2 L1930 1941.8 L1950 1943.3"/><path d="M-10 1457.4 L10 1461.5 L30 1465.6 L50 1469.8 L70 1474.0 L90 1478.2 L110 1482.7 L130 1487.3 L150 1492.3 L170 1497.7 L190 1503.6 L210 1509.8 L230 1516.3 L250 1523.2 L270 1530.4 L290 1538.1 L310 1546.1 L330 1554.3 L350 1562.6 L370 1571.0 L390 1579.2 L410 1587.2 L430 1594.8 L450 1602.0 L470 1608.8 L490 1615.1 L510 1621.0 L530 1626.6 L550 1632.0 L570 1637.3 L590 1642.6 L610 1648.1 L630 1653.7 L650 1659.6 L670 1665.9 L690 1672.6 L710 1679.6 L730 1687.1 L750 1695.1 L770 1703.4 L790 1712.1 L810 1720.9 L830 1729.8 L850 1738.7 L870 1747.6 L890 1756.3 L910 1764.8 L930 1773.0 L950 1780.9 L970 1788.5 L990 1795.8 L1010 1802.8 L1030 1809.4 L1050 1815.8 L1070 1822.1 L1090 1828.4 L1110 1834.7 L1130 1840.9 L1150 1847.0 L1170 1853.0 L1190 1858.7 L1210 1864.2 L1230 1869.2 L1250 1873.6 L1270 1877.4 L1290 1880.5 L1310 1882.7 L1330 1884.3 L1350 1885.3 L1370 1885.6 L1390 1885.6 L1410 1885.4 L1430 1885.0 L1450 1884.6 L1470 1884.3 L1490 1884.1 L1510 1884.3 L1530 1885.1 L1550 1886.4 L1570 1888.3 L1590 1890.9 L1610 1894.0 L1630 1897.8 L1650 1901.9 L1670 1906.5 L1690 1911.3 L1710 1916.3 L1730 1921.2 L1750 1926.0 L1770 1930.5 L1790 1934.5 L1810 1937.9 L1830 1940.8 L1850 1943.2 L1870 1945.1 L1890 1946.7 L1910 1948.1 L1930 1949.4 L1950 1950.8"/><path d="M-10 1470.4 L10 1474.0 L30 1477.7 L50 1481.5 L70 1485.3 L90 1489.3 L110 1493.6 L130 1498.3 L150 1503.3 L170 1508.9 L190 1515.1 L210 1521.6 L230 1528.6 L250 1535.9 L270 1543.6 L290 1551.6 L310 1559.8 L330 1568.1 L350 1576.4 L370 1584.7 L390 1592.6 L410 1600.2 L430 1607.5 L450 1614.2 L470 1620.5 L490 1626.4 L510 1631.9 L530 1637.3 L550 1642.5 L570 1647.7 L590 1653.1 L610 1658.7 L630 1664.5 L650 1670.8 L670 1677.5 L690 1684.5 L710 1691.9 L730 1699.7 L750 1707.9 L770 1716.4 L790 1725.0 L810 1733.7 L830 1742.4 L850 1751.0 L870 1759.4 L890 1767.7 L910 1775.7 L930 1783.5 L950 1791.0 L970 1798.3 L990 1805.4 L1010 1812.3 L1030 1818.9 L1050 1825.5 L1070 1832.1 L1090 1838.8 L1110 1845.4 L1130 1852.0 L1150 1858.5 L1170 1864.7 L1190 1870.7 L1210 1876.3 L1230 1881.3 L1250 1885.6 L1270 1889.2 L1290 1891.8 L1310 1893.7 L1330 1894.8 L1350 1895.3 L1370 1895.2 L1390 1894.8 L1410 1894.3 L1430 1893.8 L1450 1893.3 L1470 1893.0 L1490 1893.0 L1510 1893.5 L1530 1894.6 L1550 1896.3 L1570 1898.6 L1590 1901.5 L1610 1905.0 L1630 1908.9 L1650 1913.2 L1670 1917.7 L1690 1922.4 L1710 1927.2 L1730 1931.8 L1750 1936.1 L1770 1940.2 L1790 1943.7 L1810 1946.7 L1830 1949.2 L1850 1951.3 L1870 1953.0 L1890 1954.5 L1910 1956.0 L1930 1957.6 L1950 1959.2"/><path d="M-10 1482.9 L10 1486.1 L30 1489.4 L50 1492.8 L70 1496.4 L90 1500.3 L110 1504.5 L130 1509.3 L150 1514.5 L170 1520.4 L190 1527.0 L210 1533.9 L230 1541.3 L250 1549.0 L270 1557.0 L290 1565.3 L310 1573.7 L330 1581.9 L350 1590.1 L370 1598.1 L390 1605.7 L410 1612.9 L430 1619.7 L450 1626.0 L470 1631.9 L490 1637.4 L510 1642.6 L530 1647.8 L550 1652.9 L570 1658.2 L590 1663.7 L610 1669.6 L630 1675.8 L650 1682.4 L670 1689.5 L690 1696.9 L710 1704.6 L730 1712.6 L750 1720.9 L770 1729.3 L790 1737.9 L810 1746.3 L830 1754.6 L850 1762.8 L870 1770.8 L890 1778.6 L910 1786.2 L930 1793.6 L950 1800.8 L970 1807.9 L990 1815.0 L1010 1821.9 L1030 1828.8 L1050 1835.6 L1070 1842.5 L1090 1849.5 L1110 1856.6 L1130 1863.6 L1150 1870.3 L1170 1876.8 L1190 1882.9 L1210 1888.4 L1230 1893.3 L1250 1897.3 L1270 1900.5 L1290 1902.8 L1310 1904.2 L1330 1904.9 L1350 1904.9 L1370 1904.4 L1390 1903.8 L1410 1903.1 L1430 1902.5 L1450 1902.1 L1470 1901.9 L1490 1902.2 L1510 1903.1 L1530 1904.5 L1550 1906.6 L1570 1909.3 L1590 1912.5 L1610 1916.2 L1630 1920.2 L1650 1924.4 L1670 1928.8 L1690 1933.3 L1710 1937.7 L1730 1941.9 L1750 1945.8 L1770 1949.4 L1790 1952.5 L1810 1955.1 L1830 1957.3 L1850 1959.2 L1870 1960.9 L1890 1962.4 L1910 1964.1 L1930 1966.0 L1950 1968.0"/><path d="M-10 1494.9 L10 1497.8 L30 1500.7 L50 1503.9 L70 1507.3 L90 1511.2 L110 1515.5 L130 1520.5 L150 1526.1 L170 1532.3 L190 1539.3 L210 1546.7 L230 1554.4 L250 1562.5 L270 1570.8 L290 1579.2 L310 1587.5 L330 1595.7 L350 1603.6 L370 1611.2 L390 1618.4 L410 1625.2 L430 1631.5 L450 1637.4 L470 1642.9 L490 1648.1 L510 1653.1 L530 1658.2 L550 1663.5 L570 1668.9 L590 1674.7 L610 1680.9 L630 1687.5 L650 1694.5 L670 1701.9 L690 1709.6 L710 1717.5 L730 1725.6 L750 1733.9 L770 1742.2 L790 1750.5 L810 1758.6 L830 1766.5 L850 1774.2 L870 1781.7 L890 1789.1 L910 1796.3 L930 1803.5 L950 1810.5 L970 1817.5 L990 1824.7 L1010 1831.8 L1030 1838.9 L1050 1846.1 L1070 1853.4 L1090 1860.8 L1110 1868.2 L1130 1875.4 L1150 1882.4 L1170 1889.0 L1190 1895.0 L1210 1900.4 L1230 1905.0 L1250 1908.8 L1270 1911.6 L1290 1913.4 L1310 1914.3 L1330 1914.5 L1350 1914.2 L1370 1913.4 L1390 1912.6 L1410 1911.9 L1430 1911.3 L1450 1911.1 L1470 1911.2 L1490 1911.9 L1510 1913.1 L1530 1914.9 L1550 1917.3 L1570 1920.3 L1590 1923.7 L1610 1927.5 L1630 1931.5 L1650 1935.6 L1670 1939.7 L1690 1943.9 L1710 1947.9 L1730 1951.6 L1750 1955.0 L1770 1958.2 L1790 1960.9 L1810 1963.2 L1830 1965.2 L1850 1967.1 L1870 1968.8 L1890 1970.6 L1910 1972.6 L1930 1974.8 L1950 1977.3"/><path d="M-10 1506.5 L10 1509.1 L30 1511.8 L50 1514.8 L70 1518.2 L90 1522.2 L110 1526.8 L130 1532.0 L150 1538.0 L170 1544.7 L190 1552.1 L210 1559.9 L230 1567.9 L250 1576.2 L270 1584.6 L290 1593.1 L310 1601.3 L330 1609.2 L350 1616.8 L370 1624.0 L390 1630.7 L410 1637.0 L430 1642.9 L450 1648.4 L470 1653.6 L490 1658.6 L510 1663.7 L530 1668.8 L550 1674.2 L570 1679.9 L590 1686.1 L610 1692.6 L630 1699.6 L650 1707.0 L670 1714.7 L690 1722.6 L710 1730.6 L730 1738.7 L750 1746.8 L770 1754.9 L790 1762.8 L810 1770.5 L830 1777.9 L850 1785.2 L870 1792.3 L890 1799.2 L910 1806.2 L930 1813.2 L950 1820.1 L970 1827.2 L990 1834.6 L1010 1842.0 L1030 1849.4 L1050 1857.0 L1070 1864.6 L1090 1872.4 L1110 1880.1 L1130 1887.6 L1150 1894.6 L1170 1901.2 L1190 1907.1 L1210 1912.2 L1230 1916.5 L1250 1919.8 L1270 1922.1 L1290 1923.5 L1310 1924.0 L1330 1923.8 L1350 1923.2 L1370 1922.3 L1390 1921.4 L1410 1920.8 L1430 1920.4 L1450 1920.4 L1470 1920.9 L1490 1921.9 L1510 1923.5 L1530 1925.7 L1550 1928.4 L1570 1931.6 L1590 1935.1 L1610 1938.8 L1630 1942.7 L1650 1946.5 L1670 1950.3 L1690 1954.0 L1710 1957.6 L1730 1960.8 L1750 1963.8 L1770 1966.6 L1790 1969.1 L1810 1971.2 L1830 1973.2 L1850 1975.1 L1870 1977.0 L1890 1979.1 L1910 1981.4 L1930 1984.1 L1950 1986.9"/><path d="M-10 1517.8 L10 1520.1 L30 1522.7 L50 1525.7 L70 1529.3 L90 1533.4 L110 1538.3 L130 1544.0 L150 1550.4 L170 1557.5 L190 1565.3 L210 1573.4 L230 1581.7 L250 1590.1 L270 1598.5 L290 1606.8 L310 1614.8 L330 1622.3 L350 1629.5 L370 1636.3 L390 1642.5 L410 1648.4 L430 1653.9 L450 1659.1 L470 1664.2 L490 1669.2 L510 1674.3 L530 1679.6 L550 1685.3 L570 1691.4 L590 1697.9 L610 1704.8 L630 1712.2 L650 1719.8 L670 1727.7 L690 1735.7 L710 1743.7 L730 1751.6 L750 1759.5 L770 1767.2 L790 1774.7 L810 1781.9 L830 1788.9 L850 1795.7 L870 1802.4 L890 1809.2 L910 1815.9 L930 1822.9 L950 1829.9 L970 1837.2 L990 1844.8 L1010 1852.5 L1030 1860.4 L1050 1868.3 L1070 1876.3 L1090 1884.4 L1110 1892.3 L1130 1899.8 L1150 1906.9 L1170 1913.2 L1190 1918.9 L1210 1923.7 L1230 1927.5 L1250 1930.4 L1270 1932.2 L1290 1933.2 L1310 1933.3 L1330 1932.9 L1350 1932.1 L1370 1931.1 L1390 1930.3 L1410 1929.9 L1430 1929.8 L1450 1930.1 L1470 1931.0 L1490 1932.4 L1510 1934.4 L1530 1936.8 L1550 1939.7 L1570 1943.0 L1590 1946.5 L1610 1950.1 L1630 1953.6 L1650 1957.2 L1670 1960.5 L1690 1963.8 L1710 1966.8 L1730 1969.6 L1750 1972.3 L1770 1974.8 L1790 1977.1 L1810 1979.2 L1830 1981.3 L1850 1983.4 L1870 1985.6 L1890 1988.0 L1910 1990.7 L1930 1993.8 L1950 1997.0"/><path d="M-10 1528.9 L10 1531.0 L30 1533.6 L50 1536.8 L70 1540.5 L90 1545.0 L110 1550.3 L130 1556.4 L150 1563.2 L170 1570.7 L190 1578.8 L210 1587.1 L230 1595.6 L250 1604.0 L270 1612.3 L290 1620.4 L310 1628.0 L330 1635.1 L350 1641.8 L370 1648.1 L390 1654.0 L410 1659.5 L430 1664.7 L450 1669.8 L470 1674.8 L490 1679.9 L510 1685.1 L530 1690.8 L550 1696.8 L570 1703.3 L590 1710.1 L610 1717.4 L630 1725.1 L650 1732.9 L670 1740.9 L690 1748.8 L710 1756.7 L730 1764.3 L750 1771.8 L770 1779.1 L790 1786.1 L810 1792.9 L830 1799.5 L850 1805.9 L870 1812.4 L890 1818.9 L910 1825.7 L930 1832.7 L950 1839.9 L970 1847.5 L990 1855.5 L1010 1863.6 L1030 1871.8 L1050 1880.1 L1070 1888.4 L1090 1896.6 L1110 1904.6 L1130 1912.1 L1150 1919.0 L1170 1925.1 L1190 1930.4 L1210 1934.7 L1230 1938.1 L1250 1940.5 L1270 1941.9 L1290 1942.5 L1310 1942.4 L1330 1941.8 L1350 1941.0 L1370 1940.1 L1390 1939.5 L1410 1939.3 L1430 1939.6 L1450 1940.3 L1470 1941.6 L1490 1943.3 L1510 1945.5 L1530 1948.2 L1550 1951.2 L1570 1954.4 L1590 1957.7 L1610 1961.0 L1630 1964.3 L1650 1967.4 L1670 1970.3 L1690 1973.0 L1710 1975.7 L1730 1978.1 L1750 1980.5 L1770 1982.9 L1790 1985.1 L1810 1987.3 L1830 1989.6 L1850 1992.0 L1870 1994.5 L1890 1997.3 L1910 2000.4 L1930 2003.9 L1950 2007.5"/><path d="M-10 1539.8 L10 1542.0 L30 1544.7 L50 1548.0 L70 1552.1 L90 1557.0 L110 1562.7 L130 1569.2 L150 1576.4 L170 1584.2 L190 1592.6 L210 1601.0 L230 1609.4 L250 1617.7 L270 1625.8 L290 1633.6 L310 1640.8 L330 1647.4 L350 1653.7 L370 1659.6 L390 1665.1 L410 1670.3 L430 1675.4 L450 1680.4 L470 1685.5 L490 1690.8 L510 1696.3 L530 1702.3 L550 1708.7 L570 1715.6 L590 1722.8 L610 1730.4 L630 1738.2 L650 1746.1 L670 1754.1 L690 1761.8 L710 1769.4 L730 1776.7 L750 1783.8 L770 1790.6 L790 1797.1 L810 1803.5 L830 1809.7 L850 1815.9 L870 1822.2 L890 1828.7 L910 1835.6 L930 1842.7 L950 1850.3 L970 1858.2 L990 1866.5 L1010 1875.0 L1030 1883.6 L1050 1892.2 L1070 1900.7 L1090 1909.0 L1110 1916.9 L1130 1924.3 L1150 1930.8 L1170 1936.6 L1190 1941.4 L1210 1945.3 L1230 1948.3 L1250 1950.2 L1270 1951.3 L1290 1951.6 L1310 1951.3 L1330 1950.7 L1350 1950.0 L1370 1949.3 L1390 1949.0 L1410 1949.2 L1430 1949.8 L1450 1950.9 L1470 1952.5 L1490 1954.5 L1510 1957.0 L1530 1959.7 L1550 1962.7 L1570 1965.7 L1590 1968.7 L1610 1971.7 L1630 1974.5 L1650 1977.1 L1670 1979.6 L1690 1981.9 L1710 1984.2 L1730 1986.4 L1750 1988.6 L1770 1991.0 L1790 1993.3 L1810 1995.7 L1830 1998.2 L1850 2001.0 L1870 2003.9 L1890 2007.0 L1910 2010.5 L1930 2014.3 L1950 2018.1"/><path d="M-10 1550.7 L10 1553.0 L30 1556.0 L50 1559.7 L70 1564.1 L90 1569.5 L110 1575.6 L130 1582.4 L150 1589.9 L170 1598.0 L190 1606.4 L210 1614.9 L230 1623.2 L250 1631.2 L270 1639.0 L290 1646.4 L310 1653.1 L330 1659.3 L350 1665.2 L370 1670.7 L390 1675.9 L410 1681.0 L430 1686.0 L450 1691.2 L470 1696.5 L490 1702.0 L510 1707.9 L530 1714.3 L550 1721.1 L570 1728.3 L590 1735.8 L610 1743.5 L630 1751.4 L650 1759.3 L670 1767.1 L690 1774.6 L710 1781.8 L730 1788.6 L750 1795.2 L770 1801.6 L790 1807.7 L810 1813.7 L830 1819.7 L850 1825.7 L870 1832.0 L890 1838.6 L910 1845.7 L930 1853.1 L950 1861.0 L970 1869.3 L990 1878.1 L1010 1886.9 L1030 1895.7 L1050 1904.5 L1070 1913.0 L1090 1921.3 L1110 1929.1 L1130 1936.2 L1150 1942.4 L1170 1947.7 L1190 1952.1 L1210 1955.5 L1230 1958.0 L1250 1959.6 L1270 1960.5 L1290 1960.6 L1310 1960.3 L1330 1959.8 L1350 1959.3 L1370 1958.9 L1390 1958.9 L1410 1959.5 L1430 1960.5 L1450 1962.0 L1470 1963.8 L1490 1966.0 L1510 1968.5 L1530 1971.2 L1550 1974.0 L1570 1976.7 L1590 1979.4 L1610 1981.9 L1630 1984.3 L1650 1986.4 L1670 1988.4 L1690 1990.5 L1710 1992.5 L1730 1994.5 L1750 1996.7 L1770 1999.2 L1790 2001.7 L1810 2004.4 L1830 2007.3 L1850 2010.4 L1870 2013.7 L1890 2017.2 L1910 2021.0 L1930 2025.0 L1950 2028.9"/><path d="M-10 1561.8 L10 1564.3 L30 1567.6 L50 1571.7 L70 1576.6 L90 1582.3 L110 1588.8 L130 1596.0 L150 1603.7 L170 1611.9 L190 1620.3 L210 1628.6 L230 1636.7 L250 1644.4 L270 1651.7 L290 1658.7 L310 1665.0 L330 1670.8 L350 1676.3 L370 1681.5 L390 1686.6 L410 1691.7 L430 1696.9 L450 1702.2 L470 1707.8 L490 1713.7 L510 1720.0 L530 1726.7 L550 1733.9 L570 1741.3 L590 1749.0 L610 1756.8 L630 1764.7 L650 1772.4 L670 1779.8 L690 1787.0 L710 1793.7 L730 1800.1 L750 1806.3 L770 1812.2 L790 1818.0 L810 1823.8 L830 1829.6 L850 1835.6 L870 1842.0 L890 1848.8 L910 1856.1 L930 1864.0 L950 1872.2 L970 1880.9 L990 1890.0 L1010 1899.1 L1030 1908.1 L1050 1916.9 L1070 1925.4 L1090 1933.5 L1110 1941.0 L1130 1947.7 L1150 1953.5 L1170 1958.3 L1190 1962.3 L1210 1965.3 L1230 1967.4 L1250 1968.8 L1270 1969.5 L1290 1969.6 L1310 1969.4 L1330 1969.1 L1350 1968.9 L1370 1968.8 L1390 1969.3 L1410 1970.2 L1430 1971.6 L1450 1973.3 L1470 1975.3 L1490 1977.6 L1510 1980.0 L1530 1982.5 L1550 1985.0 L1570 1987.4 L1590 1989.7 L1610 1991.7 L1630 1993.6 L1650 1995.3 L1670 1997.0 L1690 1998.8 L1710 2000.7 L1730 2002.7 L1750 2005.0 L1770 2007.7 L1790 2010.5 L1810 2013.5 L1830 2016.8 L1850 2020.3 L1870 2024.0 L1890 2027.7 L1910 2031.7 L1930 2035.8 L1950 2039.7"/><path d="M-10 1573.1 L10 1576.0 L30 1579.7 L50 1584.2 L70 1589.5 L90 1595.6 L110 1602.4 L130 1609.8 L150 1617.6 L170 1625.7 L190 1634.0 L210 1642.1 L230 1649.8 L250 1657.1 L270 1664.1 L290 1670.6 L310 1676.5 L330 1682.0 L350 1687.2 L370 1692.3 L390 1697.4 L410 1702.6 L430 1707.9 L450 1713.6 L470 1719.5 L490 1725.8 L510 1732.5 L530 1739.6 L550 1747.0 L570 1754.6 L590 1762.3 L610 1770.1 L630 1777.7 L650 1785.2 L670 1792.3 L690 1799.0 L710 1805.3 L730 1811.2 L750 1816.9 L770 1822.5 L790 1828.1 L810 1833.7 L830 1839.5 L850 1845.6 L870 1852.2 L890 1859.3 L910 1867.0 L930 1875.2 L950 1883.9 L970 1892.9 L990 1902.2 L1010 1911.5 L1030 1920.6 L1050 1929.3 L1070 1937.7 L1090 1945.5 L1110 1952.6 L1130 1958.8 L1150 1964.1 L1170 1968.5 L1190 1972.1 L1210 1974.7 L1230 1976.6 L1250 1977.9 L1270 1978.6 L1290 1978.8 L1310 1978.8 L1330 1978.8 L1350 1978.9 L1370 1979.3 L1390 1980.1 L1410 1981.3 L1430 1983.0 L1450 1984.9 L1470 1987.0 L1490 1989.2 L1510 1991.4 L1530 1993.6 L1550 1995.7 L1570 1997.7 L1590 1999.5 L1610 2001.1 L1630 2002.5 L1650 2003.9 L1670 2005.4 L1690 2007.0 L1710 2008.9 L1730 2011.0 L1750 2013.5 L1770 2016.5 L1790 2019.7 L1810 2023.1 L1830 2026.7 L1850 2030.6 L1870 2034.5 L1890 2038.4 L1910 2042.5 L1930 2046.6 L1950 2050.3"/><path d="M-10 1584.8 L10 1588.1 L30 1592.2 L50 1597.1 L70 1602.8 L90 1609.2 L110 1616.2 L130 1623.7 L150 1631.5 L170 1639.4 L190 1647.5 L210 1655.2 L230 1662.5 L250 1669.4 L270 1675.9 L290 1682.1 L310 1687.7 L330 1692.9 L350 1698.0 L370 1703.1 L390 1708.3 L410 1713.7 L430 1719.4 L450 1725.4 L470 1731.7 L490 1738.4 L510 1745.4 L530 1752.7 L550 1760.3 L570 1768.0 L590 1775.6 L610 1783.2 L630 1790.6 L650 1797.6 L670 1804.3 L690 1810.5 L710 1816.3 L730 1821.9 L750 1827.3 L770 1832.6 L790 1838.0 L810 1843.6 L830 1849.5 L850 1855.9 L870 1862.8 L890 1870.3 L910 1878.3 L930 1886.9 L950 1895.9 L970 1905.2 L990 1914.7 L1010 1924.0 L1030 1933.0 L1050 1941.6 L1070 1949.6 L1090 1957.0 L1110 1963.7 L1130 1969.5 L1150 1974.4 L1170 1978.4 L1190 1981.5 L1210 1984.0 L1230 1985.7 L1250 1987.0 L1270 1987.8 L1290 1988.2 L1310 1988.5 L1330 1988.9 L1350 1989.4 L1370 1990.1 L1390 1991.3 L1410 1992.8 L1430 1994.6 L1450 1996.5 L1470 1998.6 L1490 2000.6 L1510 2002.5 L1530 2004.4 L1550 2006.0 L1570 2007.5 L1590 2008.9 L1610 2010.0 L1630 2011.2 L1650 2012.3 L1670 2013.6 L1690 2015.3 L1710 2017.2 L1730 2019.6 L1750 2022.4 L1770 2025.7 L1790 2029.3 L1810 2033.1 L1830 2037.1 L1850 2041.2 L1870 2045.3 L1890 2049.2 L1910 2053.2 L1930 2057.2 L1950 2060.7"/><path d="M-10 1596.9 L10 1600.6 L30 1605.1 L50 1610.4 L70 1616.4 L90 1623.0 L110 1630.1 L130 1637.5 L150 1645.2 L170 1652.9 L190 1660.6 L210 1667.9 L230 1674.8 L250 1681.3 L270 1687.4 L290 1693.3 L310 1698.7 L330 1703.8 L350 1708.9 L370 1714.1 L390 1719.5 L410 1725.2 L430 1731.2 L450 1737.6 L470 1744.3 L490 1751.3 L510 1758.6 L530 1766.1 L550 1773.7 L570 1781.3 L590 1788.8 L610 1796.1 L630 1803.0 L650 1809.6 L670 1815.8 L690 1821.6 L710 1827.0 L730 1832.2 L750 1837.4 L770 1842.6 L790 1848.0 L810 1853.7 L830 1859.9 L850 1866.5 L870 1873.8 L890 1881.6 L910 1890.1 L930 1899.0 L950 1908.3 L970 1917.7 L990 1927.3 L1010 1936.5 L1030 1945.3 L1050 1953.6 L1070 1961.2 L1090 1968.2 L1110 1974.4 L1130 1979.8 L1150 1984.2 L1170 1987.9 L1190 1990.8 L1210 1993.1 L1230 1994.9 L1250 1996.2 L1270 1997.2 L1290 1998.0 L1310 1998.7 L1330 1999.4 L1350 2000.3 L1370 2001.4 L1390 2002.8 L1410 2004.4 L1430 2006.3 L1450 2008.2 L1470 2010.0 L1490 2011.7 L1510 2013.3 L1530 2014.7 L1550 2015.9 L1570 2016.9 L1590 2017.8 L1610 2018.7 L1630 2019.6 L1650 2020.6 L1670 2021.9 L1690 2023.7 L1710 2025.9 L1730 2028.5 L1750 2031.7 L1770 2035.4 L1790 2039.4 L1810 2043.5 L1830 2047.7 L1850 2052.0 L1870 2056.1 L1890 2060.0 L1910 2063.8 L1930 2067.5 L1950 2070.7"/><path d="M-10 1609.4 L10 1613.5 L30 1618.4 L50 1624.0 L70 1630.2 L90 1636.9 L110 1644.0 L130 1651.2 L150 1658.6 L170 1666.0 L190 1673.3 L210 1680.2 L230 1686.7 L250 1692.8 L270 1698.6 L290 1704.3 L310 1709.6 L330 1714.6 L350 1719.9 L370 1725.3 L390 1731.0 L410 1737.1 L430 1743.5 L450 1750.3 L470 1757.3 L490 1764.5 L510 1772.0 L530 1779.5 L550 1787.1 L570 1794.5 L590 1801.7 L610 1808.5 L630 1815.1 L650 1821.2 L670 1827.0 L690 1832.3 L710 1837.4 L730 1842.4 L750 1847.4 L770 1852.7 L790 1858.2 L810 1864.1 L830 1870.6 L850 1877.6 L870 1885.2 L890 1893.5 L910 1902.2 L930 1911.4 L950 1920.8 L970 1930.3 L990 1939.8 L1010 1948.8 L1030 1957.3 L1050 1965.2 L1070 1972.4 L1090 1978.9 L1110 1984.7 L1130 1989.6 L1150 1993.7 L1170 1997.2 L1190 2000.0 L1210 2002.3 L1230 2004.2 L1250 2005.8 L1270 2007.1 L1290 2008.2 L1310 2009.3 L1330 2010.4 L1350 2011.6 L1370 2012.9 L1390 2014.5 L1410 2016.2 L1430 2017.9 L1450 2019.6 L1470 2021.1 L1490 2022.5 L1510 2023.6 L1530 2024.5 L1550 2025.3 L1570 2025.9 L1590 2026.5 L1610 2027.1 L1630 2027.9 L1650 2029.0 L1670 2030.4 L1690 2032.3 L1710 2034.9 L1730 2037.9 L1750 2041.5 L1770 2045.5 L1790 2049.8 L1810 2054.2 L1830 2058.6 L1850 2062.9 L1870 2066.9 L1890 2070.6 L1910 2074.2 L1930 2077.5 L1950 2080.2"/><path d="M-10 1622.4 L10 1626.9 L30 1632.1 L50 1637.8 L70 1644.1 L90 1650.7 L110 1657.6 L130 1664.7 L150 1671.7 L170 1678.6 L190 1685.5 L210 1692.0 L230 1698.1 L250 1703.9 L270 1709.6 L290 1715.2 L310 1720.5 L330 1725.7 L350 1731.2 L370 1736.9 L390 1743.0 L410 1749.4 L430 1756.2 L450 1763.3 L470 1770.6 L490 1778.0 L510 1785.5 L530 1792.9 L550 1800.2 L570 1807.4 L590 1814.2 L610 1820.6 L630 1826.7 L650 1832.4 L670 1837.7 L690 1842.7 L710 1847.6 L730 1852.5 L750 1857.5 L770 1862.9 L790 1868.6 L810 1874.9 L830 1881.7 L850 1889.1 L870 1897.1 L890 1905.7 L910 1914.7 L930 1924.0 L950 1933.4 L970 1942.8 L990 1952.1 L1010 1960.8 L1030 1969.0 L1050 1976.4 L1070 1983.1 L1090 1989.2 L1110 1994.6 L1130 1999.2 L1150 2003.1 L1170 2006.4 L1190 2009.2 L1210 2011.7 L1230 2013.8 L1250 2015.7 L1270 2017.4 L1290 2018.9 L1310 2020.3 L1330 2021.7 L1350 2023.2 L1370 2024.7 L1390 2026.2 L1410 2027.9 L1430 2029.4 L1450 2030.8 L1470 2031.9 L1490 2032.8 L1510 2033.5 L1530 2034.0 L1550 2034.3 L1570 2034.6 L1590 2035.0 L1610 2035.5 L1630 2036.3 L1650 2037.5 L1670 2039.1 L1690 2041.4 L1710 2044.3 L1730 2047.7 L1750 2051.6 L1770 2056.0 L1790 2060.6 L1810 2065.1 L1830 2069.5 L1850 2073.7 L1870 2077.6 L1890 2080.9 L1910 2084.1 L1930 2087.0 L1950 2089.3"/><path d="M-10 1635.8 L10 1640.5 L30 1645.9 L50 1651.7 L70 1657.9 L90 1664.4 L110 1671.0 L130 1677.7 L150 1684.3 L170 1690.8 L190 1697.3 L210 1703.4 L230 1709.3 L250 1714.9 L270 1720.5 L290 1726.2 L310 1731.6 L330 1737.1 L350 1742.8 L370 1748.9 L390 1755.4 L410 1762.2 L430 1769.3 L450 1776.7 L470 1784.1 L490 1791.5 L510 1798.9 L530 1806.1 L550 1813.2 L570 1819.9 L590 1826.2 L610 1832.2 L630 1837.8 L650 1843.1 L670 1848.1 L690 1853.0 L710 1857.7 L730 1862.6 L750 1867.8 L770 1873.4 L790 1879.4 L810 1886.1 L830 1893.2 L850 1901.0 L870 1909.4 L890 1918.2 L910 1927.3 L930 1936.7 L950 1946.0 L970 1955.2 L990 1964.2 L1010 1972.5 L1030 1980.2 L1050 1987.1 L1070 1993.4 L1090 1999.1 L1110 2004.2 L1130 2008.5 L1150 2012.3 L1170 2015.7 L1190 2018.6 L1210 2021.3 L1230 2023.7 L1250 2026.0 L1270 2028.1 L1290 2030.0 L1310 2031.7 L1330 2033.4 L1350 2035.0 L1370 2036.5 L1390 2038.0 L1410 2039.4 L1430 2040.6 L1450 2041.6 L1470 2042.3 L1490 2042.7 L1510 2042.9 L1530 2043.0 L1550 2043.0 L1570 2043.1 L1590 2043.4 L1610 2043.9 L1630 2044.9 L1650 2046.3 L1670 2048.2 L1690 2050.9 L1710 2054.2 L1730 2057.9 L1750 2062.2 L1770 2066.8 L1790 2071.5 L1810 2076.0 L1830 2080.4 L1850 2084.4 L1870 2087.9 L1890 2090.9 L1910 2093.6 L1930 2096.1 L1950 2098.0"/><path d="M-10 1649.4 L10 1654.4 L30 1659.8 L50 1665.6 L70 1671.6 L90 1677.8 L110 1684.1 L130 1690.3 L150 1696.5 L170 1702.6 L190 1708.7 L210 1714.6 L230 1720.2 L250 1725.8 L270 1731.5 L290 1737.3 L310 1743.0 L330 1748.8 L350 1754.9 L370 1761.4 L390 1768.3 L410 1775.4 L430 1782.7 L450 1790.2 L470 1797.7 L490 1805.0 L510 1812.2 L530 1819.1 L550 1825.7 L570 1832.0 L590 1837.9 L610 1843.4 L630 1848.6 L650 1853.6 L670 1858.4 L690 1863.1 L710 1867.9 L730 1872.9 L750 1878.3 L770 1884.2 L790 1890.7 L810 1897.7 L830 1905.2 L850 1913.3 L870 1921.9 L890 1930.9 L910 1940.1 L930 1949.3 L950 1958.4 L970 1967.3 L990 1975.9 L1010 1983.7 L1030 1990.9 L1050 1997.5 L1070 2003.4 L1090 2008.7 L1110 2013.5 L1130 2017.8 L1150 2021.7 L1170 2025.1 L1190 2028.3 L1210 2031.3 L1230 2034.1 L1250 2036.8 L1270 2039.2 L1290 2041.4 L1310 2043.4 L1330 2045.2 L1350 2046.9 L1370 2048.2 L1390 2049.5 L1410 2050.6 L1430 2051.4 L1450 2052.0 L1470 2052.2 L1490 2052.2 L1510 2052.0 L1530 2051.8 L1550 2051.6 L1570 2051.6 L1590 2051.9 L1610 2052.5 L1630 2053.7 L1650 2055.4 L1670 2057.8 L1690 2060.8 L1710 2064.5 L1730 2068.6 L1750 2073.0 L1770 2077.8 L1790 2082.5 L1810 2087.0 L1830 2091.1 L1850 2094.8 L1870 2097.9 L1890 2100.4 L1910 2102.7 L1930 2104.8 L1950 2106.3"/><path d="M-10 1663.2 L10 1668.2 L30 1673.6 L50 1679.2 L70 1685.0 L90 1690.8 L110 1696.7 L130 1702.5 L150 1708.3 L170 1714.0 L190 1719.9 L210 1725.5 L230 1731.1 L250 1736.8 L270 1742.6 L290 1748.7 L310 1754.8 L330 1760.9 L350 1767.4 L370 1774.3 L390 1781.5 L410 1788.9 L430 1796.3 L450 1803.8 L470 1811.2 L490 1818.3 L510 1825.1 L530 1831.6 L550 1837.8 L570 1843.6 L590 1849.1 L610 1854.2 L630 1859.1 L650 1863.9 L670 1868.6 L690 1873.3 L710 1878.2 L730 1883.5 L750 1889.3 L770 1895.5 L790 1902.4 L810 1909.7 L830 1917.6 L850 1925.9 L870 1934.7 L890 1943.6 L910 1952.7 L930 1961.7 L950 1970.5 L970 1979.0 L990 1987.1 L1010 1994.5 L1030 2001.3 L1050 2007.4 L1070 2013.0 L1090 2018.2 L1110 2022.9 L1130 2027.2 L1150 2031.2 L1170 2034.9 L1190 2038.4 L1210 2041.8 L1230 2045.0 L1250 2048.0 L1270 2050.7 L1290 2053.2 L1310 2055.3 L1330 2057.1 L1350 2058.7 L1370 2059.8 L1390 2060.8 L1410 2061.4 L1430 2061.8 L1450 2061.9 L1470 2061.7 L1490 2061.3 L1510 2060.8 L1530 2060.3 L1550 2060.1 L1570 2060.1 L1590 2060.5 L1610 2061.4 L1630 2062.9 L1650 2065.0 L1670 2067.8 L1690 2071.2 L1710 2075.1 L1730 2079.5 L1750 2084.1 L1770 2088.9 L1790 2093.4 L1810 2097.7 L1830 2101.5 L1850 2104.7 L1870 2107.4 L1890 2109.5 L1910 2111.4 L1930 2113.1 L1950 2114.4"/><path d="M-10 1677.1 L10 1682.1 L30 1687.2 L50 1692.6 L70 1698.0 L90 1703.4 L110 1708.8 L130 1714.2 L150 1719.7 L170 1725.2 L190 1730.8 L210 1736.4 L230 1742.1 L250 1748.0 L270 1754.1 L290 1760.5 L310 1767.0 L330 1773.5 L350 1780.4 L370 1787.6 L390 1795.0 L410 1802.5 L430 1810.0 L450 1817.3 L470 1824.5 L490 1831.3 L510 1837.7 L530 1843.8 L550 1849.5 L570 1854.8 L590 1859.9 L610 1864.7 L630 1869.4 L650 1874.1 L670 1878.8 L690 1883.7 L710 1888.9 L730 1894.5 L750 1900.6 L770 1907.3 L790 1914.5 L810 1922.2 L830 1930.3 L850 1938.7 L870 1947.4 L890 1956.3 L910 1965.2 L930 1973.9 L950 1982.2 L970 1990.3 L990 1997.9 L1010 2004.9 L1030 2011.3 L1050 2017.1 L1070 2022.5 L1090 2027.5 L1110 2032.3 L1130 2036.8 L1150 2041.0 L1170 2045.0 L1190 2048.9 L1210 2052.7 L1230 2056.2 L1250 2059.5 L1270 2062.5 L1290 2065.1 L1310 2067.2 L1330 2068.9 L1350 2070.3 L1370 2071.1 L1390 2071.6 L1410 2071.9 L1430 2071.8 L1450 2071.4 L1470 2070.8 L1490 2070.1 L1510 2069.4 L1530 2068.9 L1550 2068.6 L1570 2068.8 L1590 2069.5 L1610 2070.7 L1630 2072.6 L1650 2075.1 L1670 2078.2 L1690 2081.9 L1710 2086.1 L1730 2090.5 L1750 2095.2 L1770 2099.8 L1790 2104.2 L1810 2108.1 L1830 2111.5 L1850 2114.3 L1870 2116.5 L1890 2118.1 L1910 2119.6 L1930 2121.1 L1950 2122.2"/><path d="M-10 1691.0 L10 1695.7 L30 1700.6 L50 1705.5 L70 1710.5 L90 1715.5 L110 1720.5 L130 1725.6 L150 1730.8 L170 1736.1 L190 1741.7 L210 1747.4 L230 1753.3 L250 1759.4 L270 1765.9 L290 1772.8 L310 1779.7 L330 1786.5 L350 1793.7 L370 1801.1 L390 1808.7 L410 1816.2 L430 1823.5 L450 1830.7 L470 1837.5 L490 1843.8 L510 1849.8 L530 1855.4 L550 1860.7 L570 1865.7 L590 1870.4 L610 1875.1 L630 1879.7 L650 1884.4 L670 1889.3 L690 1894.5 L710 1899.9 L730 1905.9 L750 1912.4 L770 1919.4 L790 1927.0 L810 1934.9 L830 1943.1 L850 1951.6 L870 1960.2 L890 1968.8 L910 1977.3 L930 1985.6 L950 1993.5 L970 2001.1 L990 2008.3 L1010 2014.9 L1030 2021.0 L1050 2026.6 L1070 2031.9 L1090 2037.0 L1110 2041.9 L1130 2046.6 L1150 2051.2 L1170 2055.6 L1190 2059.9 L1210 2064.0 L1230 2067.9 L1250 2071.4 L1270 2074.5 L1290 2077.1 L1310 2079.1 L1330 2080.6 L1350 2081.6 L1370 2082.0 L1390 2082.1 L1410 2081.8 L1430 2081.3 L1450 2080.6 L1470 2079.7 L1490 2078.7 L1510 2077.9 L1530 2077.5 L1550 2077.4 L1570 2077.8 L1590 2078.8 L1610 2080.4 L1630 2082.7 L1650 2085.5 L1670 2088.9 L1690 2092.9 L1710 2097.2 L1730 2101.7 L1750 2106.2 L1770 2110.6 L1790 2114.6 L1810 2118.1 L1830 2121.0 L1850 2123.4 L1870 2125.2 L1890 2126.4 L1910 2127.6 L1930 2129.0 L1950 2130.0"/><path d="M-10 1704.6 L10 1709.0 L30 1713.5 L50 1718.1 L70 1722.6 L90 1727.2 L110 1731.9 L130 1736.7 L150 1741.7 L170 1747.0 L190 1752.7 L210 1758.6 L230 1764.8 L250 1771.3 L270 1778.2 L290 1785.5 L310 1792.7 L330 1799.9 L350 1807.3 L370 1814.9 L390 1822.4 L410 1829.8 L430 1836.9 L450 1843.7 L470 1850.1 L490 1856.0 L510 1861.5 L530 1866.7 L550 1871.6 L570 1876.3 L590 1880.8 L610 1885.4 L630 1890.0 L650 1894.9 L670 1900.1 L690 1905.6 L710 1911.4 L730 1917.8 L750 1924.6 L770 1932.0 L790 1939.7 L810 1947.7 L830 1955.9 L850 1964.3 L870 1972.7 L890 1980.9 L910 1989.1 L930 1996.9 L950 2004.4 L970 2011.5 L990 2018.3 L1010 2024.6 L1030 2030.5 L1050 2036.0 L1070 2041.4 L1090 2046.6 L1110 2051.8 L1130 2056.9 L1150 2061.8 L1170 2066.6 L1190 2071.2 L1210 2075.7 L1230 2079.8 L1250 2083.4 L1270 2086.5 L1290 2089.0 L1310 2090.7 L1330 2091.9 L1350 2092.5 L1370 2092.4 L1390 2092.0 L1410 2091.4 L1430 2090.5 L1450 2089.4 L1470 2088.3 L1490 2087.3 L1510 2086.6 L1530 2086.3 L1550 2086.5 L1570 2087.2 L1590 2088.6 L1610 2090.6 L1630 2093.2 L1650 2096.4 L1670 2100.0 L1690 2104.1 L1710 2108.4 L1730 2112.7 L1750 2117.0 L1770 2121.1 L1790 2124.7 L1810 2127.7 L1830 2130.2 L1850 2132.1 L1870 2133.5 L1890 2134.4 L1910 2135.5 L1930 2136.8 L1950 2137.9"/><path d="M-10 1717.9 L10 1721.9 L30 1726.0 L50 1730.2 L70 1734.3 L90 1738.6 L110 1743.0 L130 1747.7 L150 1752.6 L170 1758.0 L190 1763.9 L210 1770.1 L230 1776.7 L250 1783.6 L270 1790.9 L290 1798.6 L310 1806.2 L330 1813.6 L350 1821.1 L370 1828.6 L390 1836.0 L410 1843.1 L430 1849.9 L450 1856.3 L470 1862.3 L490 1867.7 L510 1872.8 L530 1877.6 L550 1882.2 L570 1886.7 L590 1891.2 L610 1895.8 L630 1900.6 L650 1905.7 L670 1911.2 L690 1917.1 L710 1923.3 L730 1930.1 L750 1937.2 L770 1944.8 L790 1952.6 L810 1960.6 L830 1968.7 L850 1976.8 L870 1984.8 L890 1992.7 L910 2000.4 L930 2007.8 L950 2014.8 L970 2021.5 L990 2028.1 L1010 2034.2 L1030 2040.0 L1050 2045.6 L1070 2051.1 L1090 2056.6 L1110 2062.1 L1130 2067.6 L1150 2072.9 L1170 2078.0 L1190 2083.0 L1210 2087.6 L1230 2091.8 L1250 2095.5 L1270 2098.4 L1290 2100.6 L1310 2102.1 L1330 2102.8 L1350 2102.9 L1370 2102.4 L1390 2101.6 L1410 2100.6 L1430 2099.4 L1450 2098.1 L1470 2097.0 L1490 2096.0 L1510 2095.5 L1530 2095.4 L1550 2095.9 L1570 2097.1 L1590 2098.8 L1610 2101.2 L1630 2104.1 L1650 2107.5 L1670 2111.2 L1690 2115.2 L1710 2119.4 L1730 2123.5 L1750 2127.4 L1770 2131.1 L1790 2134.3 L1810 2136.9 L1830 2138.9 L1850 2140.4 L1870 2141.5 L1890 2142.3 L1910 2143.3 L1930 2144.7 L1950 2146.0"/><path d="M-10 1730.8 L10 1734.4 L30 1738.1 L50 1741.8 L70 1745.6 L90 1749.6 L110 1753.9 L130 1758.6 L150 1763.6 L170 1769.2 L190 1775.4 L210 1782.0 L230 1789.0 L250 1796.3 L270 1804.0 L290 1812.1 L310 1819.9 L330 1827.4 L350 1834.9 L370 1842.3 L390 1849.4 L410 1856.2 L430 1862.6 L450 1868.5 L470 1874.0 L490 1879.0 L510 1883.7 L530 1888.2 L550 1892.6 L570 1897.1 L590 1901.6 L610 1906.4 L630 1911.5 L650 1917.0 L670 1922.8 L690 1929.1 L710 1935.7 L730 1942.7 L750 1950.1 L770 1957.7 L790 1965.6 L810 1973.4 L830 1981.3 L850 1989.0 L870 1996.6 L890 2004.1 L910 2011.3 L930 2018.2 L950 2024.9 L970 2031.3 L990 2037.7 L1010 2043.7 L1030 2049.6 L1050 2055.4 L1070 2061.1 L1090 2067.0 L1110 2072.9 L1130 2078.7 L1150 2084.4 L1170 2089.8 L1190 2095.0 L1210 2099.7 L1230 2103.9 L1250 2107.4 L1270 2110.1 L1290 2112.0 L1310 2113.0 L1330 2113.3 L1350 2112.9 L1370 2112.0 L1390 2110.8 L1410 2109.5 L1430 2108.1 L1450 2106.8 L1470 2105.7 L1490 2104.9 L1510 2104.6 L1530 2104.9 L1550 2105.8 L1570 2107.4 L1590 2109.5 L1610 2112.1 L1630 2115.3 L1650 2118.7 L1670 2122.4 L1690 2126.3 L1710 2130.3 L1730 2134.0 L1750 2137.5 L1770 2140.8 L1790 2143.4 L1810 2145.6 L1830 2147.2 L1850 2148.5 L1870 2149.4 L1890 2150.1 L1910 2151.2 L1930 2152.8 L1950 2154.5"/><path d="M-10 1743.2 L10 1746.5 L30 1749.8 L50 1753.1 L70 1756.7 L90 1760.6 L110 1764.8 L130 1769.6 L150 1774.9 L170 1780.8 L190 1787.4 L210 1794.3 L230 1801.7 L250 1809.5 L270 1817.5 L290 1825.8 L310 1833.7 L330 1841.2 L350 1848.6 L370 1855.7 L390 1862.5 L410 1868.9 L430 1874.8 L450 1880.3 L470 1885.3 L490 1890.0 L510 1894.4 L530 1898.7 L550 1903.1 L570 1907.6 L590 1912.3 L610 1917.3 L630 1922.7 L650 1928.6 L670 1934.9 L690 1941.5 L710 1948.4 L730 1955.6 L750 1963.1 L770 1970.7 L790 1978.4 L810 1986.0 L830 1993.5 L850 2000.9 L870 2008.0 L890 2014.9 L910 2021.7 L930 2028.3 L950 2034.7 L970 2040.9 L990 2047.2 L1010 2053.4 L1030 2059.4 L1050 2065.4 L1070 2071.6 L1090 2077.8 L1110 2084.1 L1130 2090.2 L1150 2096.2 L1170 2101.9 L1190 2107.1 L1210 2111.8 L1230 2115.9 L1250 2119.1 L1270 2121.5 L1290 2123.0 L1310 2123.5 L1330 2123.3 L1350 2122.6 L1370 2121.2 L1390 2119.8 L1410 2118.3 L1430 2116.8 L1450 2115.6 L1470 2114.7 L1490 2114.2 L1510 2114.2 L1530 2114.9 L1550 2116.2 L1570 2118.1 L1590 2120.5 L1610 2123.3 L1630 2126.5 L1650 2130.0 L1670 2133.6 L1690 2137.2 L1710 2140.8 L1730 2144.1 L1750 2147.2 L1770 2150.0 L1790 2152.2 L1810 2154.0 L1830 2155.3 L1850 2156.4 L1870 2157.3 L1890 2158.1 L1910 2159.3 L1930 2161.2 L1950 2163.3"/><path d="M-10 1755.3 L10 1758.1 L30 1761.1 L50 1764.2 L70 1767.6 L90 1771.5 L110 1775.9 L130 1780.8 L150 1786.4 L170 1792.7 L190 1799.7 L210 1807.1 L230 1814.9 L250 1823.0 L270 1831.2 L290 1839.7 L310 1847.6 L330 1854.9 L350 1862.0 L370 1868.8 L390 1875.2 L410 1881.1 L430 1886.6 L450 1891.6 L470 1896.3 L490 1900.7 L510 1904.9 L530 1909.2 L550 1913.6 L570 1918.3 L590 1923.3 L610 1928.7 L630 1934.5 L650 1940.7 L670 1947.3 L690 1954.2 L710 1961.3 L730 1968.6 L750 1976.1 L770 1983.6 L790 1991.0 L810 1998.3 L830 2005.3 L850 2012.2 L870 2018.9 L890 2025.4 L910 2031.8 L930 2038.1 L950 2044.3 L970 2050.6 L990 2056.9 L1010 2063.2 L1030 2069.5 L1050 2075.9 L1070 2082.4 L1090 2089.1 L1110 2095.7 L1130 2102.1 L1150 2108.3 L1170 2114.1 L1190 2119.3 L1210 2123.9 L1230 2127.6 L1250 2130.5 L1270 2132.5 L1290 2133.5 L1310 2133.6 L1330 2133.0 L1350 2131.8 L1370 2130.2 L1390 2128.6 L1410 2127.0 L1430 2125.7 L1450 2124.6 L1470 2124.0 L1490 2123.8 L1510 2124.2 L1530 2125.3 L1550 2126.9 L1570 2129.1 L1590 2131.7 L1610 2134.7 L1630 2137.9 L1650 2141.2 L1670 2144.5 L1690 2147.8 L1710 2150.9 L1730 2153.8 L1750 2156.4 L1770 2158.7 L1790 2160.6 L1810 2162.1 L1830 2163.3 L1850 2164.3 L1870 2165.3 L1890 2166.2 L1910 2167.8 L1930 2170.1 L1950 2172.6"/><path d="M-10 1766.9 L10 1769.4 L30 1772.1 L50 1775.1 L70 1778.6 L90 1782.5 L110 1787.1 L130 1792.4 L150 1798.4 L170 1805.1 L190 1812.5 L210 1820.3 L230 1828.4 L250 1836.7 L270 1845.1 L290 1853.5 L310 1861.3 L330 1868.4 L350 1875.2 L370 1881.5 L390 1887.4 L410 1892.9 L430 1897.9 L450 1902.6 L470 1907.0 L490 1911.2 L510 1915.4 L530 1919.8 L550 1924.4 L570 1929.3 L590 1934.7 L610 1940.4 L630 1946.6 L650 1953.2 L670 1960.1 L690 1967.2 L710 1974.4 L730 1981.7 L750 1989.0 L770 1996.2 L790 2003.3 L810 2010.1 L830 2016.7 L850 2023.2 L870 2029.4 L890 2035.6 L910 2041.7 L930 2047.8 L950 2054.0 L970 2060.3 L990 2066.9 L1010 2073.4 L1030 2080.1 L1050 2086.9 L1070 2093.7 L1090 2100.7 L1110 2107.6 L1130 2114.3 L1150 2120.5 L1170 2126.2 L1190 2131.3 L1210 2135.6 L1230 2139.1 L1250 2141.5 L1270 2143.0 L1290 2143.6 L1310 2143.2 L1330 2142.2 L1350 2140.8 L1370 2139.1 L1390 2137.4 L1410 2135.9 L1430 2134.8 L1450 2134.0 L1470 2133.7 L1490 2133.9 L1510 2134.7 L1530 2136.1 L1550 2138.0 L1570 2140.4 L1590 2143.1 L1610 2146.0 L1630 2149.0 L1650 2152.1 L1670 2155.0 L1690 2157.9 L1710 2160.6 L1730 2163.0 L1750 2165.2 L1770 2167.2 L1790 2168.8 L1810 2170.1 L1830 2171.3 L1850 2172.4 L1870 2173.5 L1890 2174.7 L1910 2176.7 L1930 2179.4 L1950 2182.3"/><path d="M-10 1778.2 L10 1780.4 L30 1783.0 L50 1786.0 L70 1789.6 L90 1793.8 L110 1798.7 L130 1804.4 L150 1810.8 L170 1817.9 L190 1825.7 L210 1833.8 L230 1842.2 L250 1850.6 L270 1859.0 L290 1867.3 L310 1874.9 L330 1881.5 L350 1887.9 L370 1893.8 L390 1899.2 L410 1904.3 L430 1909.0 L450 1913.4 L470 1917.6 L490 1921.8 L510 1926.1 L530 1930.6 L550 1935.5 L570 1940.8 L590 1946.5 L610 1952.7 L630 1959.2 L650 1966.1 L670 1973.2 L690 1980.3 L710 1987.5 L730 1994.6 L750 2001.6 L770 2008.5 L790 2015.1 L810 2021.5 L830 2027.7 L850 2033.7 L870 2039.6 L890 2045.5 L910 2051.4 L930 2057.5 L950 2063.8 L970 2070.3 L990 2077.1 L1010 2084.0 L1030 2091.1 L1050 2098.2 L1070 2105.5 L1090 2112.7 L1110 2119.8 L1130 2126.6 L1150 2132.8 L1170 2138.3 L1190 2143.1 L1210 2147.1 L1230 2150.1 L1250 2152.1 L1270 2153.1 L1290 2153.2 L1310 2152.5 L1330 2151.3 L1350 2149.7 L1370 2147.9 L1390 2146.3 L1410 2145.0 L1430 2144.2 L1450 2143.7 L1470 2143.8 L1490 2144.4 L1510 2145.6 L1530 2147.3 L1550 2149.4 L1570 2151.8 L1590 2154.5 L1610 2157.2 L1630 2160.0 L1650 2162.7 L1670 2165.2 L1690 2167.6 L1710 2169.8 L1730 2171.8 L1750 2173.6 L1770 2175.3 L1790 2176.8 L1810 2178.1 L1830 2179.3 L1850 2180.7 L1870 2182.1 L1890 2183.6 L1910 2186.0 L1930 2189.1 L1950 2192.4"/><path d="M-10 1789.2 L10 1791.4 L30 1794.0 L50 1797.1 L70 1800.9 L90 1805.4 L110 1810.7 L130 1816.8 L150 1823.6 L170 1831.1 L190 1839.3 L210 1847.6 L230 1856.0 L250 1864.5 L270 1872.7 L290 1880.8 L310 1888.0 L330 1894.3 L350 1900.2 L370 1905.6 L390 1910.6 L410 1915.3 L430 1919.7 L450 1924.0 L470 1928.2 L490 1932.5 L510 1936.9 L530 1941.8 L550 1947.0 L570 1952.7 L590 1958.8 L610 1965.3 L630 1972.1 L650 1979.2 L670 1986.3 L690 1993.5 L710 2000.5 L730 2007.3 L750 2014.0 L770 2020.4 L790 2026.6 L810 2032.5 L830 2038.2 L850 2043.9 L870 2049.5 L890 2055.2 L910 2061.2 L930 2067.4 L950 2073.8 L970 2080.6 L990 2087.8 L1010 2095.1 L1030 2102.5 L1050 2110.0 L1070 2117.5 L1090 2125.0 L1110 2132.1 L1130 2138.8 L1150 2144.9 L1170 2150.1 L1190 2154.6 L1210 2158.1 L1230 2160.6 L1250 2162.2 L1270 2162.8 L1290 2162.6 L1310 2161.6 L1330 2160.2 L1350 2158.6 L1370 2156.9 L1390 2155.5 L1410 2154.5 L1430 2154.0 L1450 2153.9 L1470 2154.4 L1490 2155.3 L1510 2156.8 L1530 2158.6 L1550 2160.8 L1570 2163.2 L1590 2165.7 L1610 2168.2 L1630 2170.6 L1650 2172.8 L1670 2174.9 L1690 2176.9 L1710 2178.7 L1730 2180.3 L1750 2181.8 L1770 2183.4 L1790 2184.8 L1810 2186.2 L1830 2187.7 L1850 2189.3 L1870 2191.0 L1890 2193.0 L1910 2195.7 L1930 2199.2 L1950 2202.8"/><path d="M-10 1800.1 L10 1802.3 L30 1805.0 L50 1808.4 L70 1812.5 L90 1817.4 L110 1823.1 L130 1829.6 L150 1836.8 L170 1844.7 L190 1853.0 L210 1861.5 L230 1869.9 L250 1878.2 L270 1886.2 L290 1894.0 L310 1900.8 L330 1906.6 L350 1912.0 L370 1917.0 L390 1921.7 L410 1926.1 L430 1930.4 L450 1934.6 L470 1938.9 L490 1943.4 L510 1948.2 L530 1953.3 L550 1959.0 L570 1965.0 L590 1971.5 L610 1978.2 L630 1985.2 L650 1992.4 L670 1999.5 L690 2006.4 L710 2013.2 L730 2019.6 L750 2025.9 L770 2031.8 L790 2037.6 L810 2043.1 L830 2048.4 L850 2053.8 L870 2059.3 L890 2065.0 L910 2071.1 L930 2077.5 L950 2084.2 L970 2091.3 L990 2098.9 L1010 2106.6 L1030 2114.3 L1050 2122.1 L1070 2129.8 L1090 2137.3 L1110 2144.4 L1130 2151.0 L1150 2156.7 L1170 2161.6 L1190 2165.6 L1210 2168.7 L1230 2170.8 L1250 2171.9 L1270 2172.2 L1290 2171.7 L1310 2170.5 L1330 2169.1 L1350 2167.6 L1370 2166.1 L1390 2165.0 L1410 2164.4 L1430 2164.2 L1450 2164.6 L1470 2165.4 L1490 2166.6 L1510 2168.2 L1530 2170.1 L1550 2172.3 L1570 2174.5 L1590 2176.7 L1610 2178.8 L1630 2180.8 L1650 2182.6 L1670 2184.2 L1690 2185.7 L1710 2187.2 L1730 2188.5 L1750 2189.9 L1770 2191.5 L1790 2193.0 L1810 2194.6 L1830 2196.3 L1850 2198.3 L1870 2200.5 L1890 2202.8 L1910 2205.9 L1930 2209.7 L1950 2213.5"/><path d="M-10 1811.0 L10 1813.4 L30 1816.3 L50 1820.0 L70 1824.5 L90 1829.9 L110 1836.0 L130 1842.9 L150 1850.4 L170 1858.5 L190 1866.9 L210 1875.4 L230 1883.6 L250 1891.7 L270 1899.4 L290 1906.8 L310 1913.1 L330 1918.5 L350 1923.5 L370 1928.1 L390 1932.6 L410 1936.8 L430 1941.1 L450 1945.4 L470 1949.9 L490 1954.7 L510 1959.8 L530 1965.4 L550 1971.4 L570 1977.8 L590 1984.5 L610 1991.4 L630 1998.5 L650 2005.6 L670 2012.5 L690 2019.2 L710 2025.5 L730 2031.5 L750 2037.3 L770 2042.8 L790 2048.1 L810 2053.3 L830 2058.4 L850 2063.7 L870 2069.1 L890 2075.0 L910 2081.2 L930 2087.9 L950 2095.0 L970 2102.5 L990 2110.4 L1010 2118.5 L1030 2126.5 L1050 2134.4 L1070 2142.2 L1090 2149.7 L1110 2156.6 L1130 2162.8 L1150 2168.2 L1170 2172.7 L1190 2176.2 L1210 2178.8 L1230 2180.5 L1250 2181.3 L1270 2181.3 L1290 2180.7 L1310 2179.5 L1330 2178.2 L1350 2176.9 L1370 2175.7 L1390 2175.0 L1410 2174.7 L1430 2174.9 L1450 2175.6 L1470 2176.7 L1490 2178.1 L1510 2179.8 L1530 2181.6 L1550 2183.6 L1570 2185.5 L1590 2187.4 L1610 2189.0 L1630 2190.5 L1650 2191.9 L1670 2193.0 L1690 2194.2 L1710 2195.4 L1730 2196.7 L1750 2198.1 L1770 2199.7 L1790 2201.4 L1810 2203.3 L1830 2205.4 L1850 2207.8 L1870 2210.3 L1890 2213.0 L1910 2216.4 L1930 2220.4 L1950 2224.3"/><path d="M-10 1822.1 L10 1824.7 L30 1828.0 L50 1832.1 L70 1837.0 L90 1842.8 L110 1849.3 L130 1856.5 L150 1864.2 L170 1872.3 L190 1880.8 L210 1889.1 L230 1897.1 L250 1904.8 L270 1912.1 L290 1919.1 L310 1925.0 L330 1929.9 L350 1934.6 L370 1939.0 L390 1943.3 L410 1947.6 L430 1951.9 L450 1956.4 L470 1961.2 L490 1966.4 L510 1971.9 L530 1977.8 L550 1984.2 L570 1990.8 L590 1997.7 L610 2004.7 L630 2011.7 L650 2018.6 L670 2025.2 L690 2031.5 L710 2037.5 L730 2043.0 L750 2048.3 L770 2053.4 L790 2058.4 L810 2063.3 L830 2068.3 L850 2073.5 L870 2079.1 L890 2085.1 L910 2091.7 L930 2098.7 L950 2106.2 L970 2114.1 L990 2122.4 L1010 2130.7 L1030 2138.9 L1050 2146.9 L1070 2154.6 L1090 2161.8 L1110 2168.5 L1130 2174.4 L1150 2179.3 L1170 2183.3 L1190 2186.4 L1210 2188.6 L1230 2189.9 L1250 2190.5 L1270 2190.3 L1290 2189.7 L1310 2188.6 L1330 2187.6 L1350 2186.6 L1370 2185.7 L1390 2185.3 L1410 2185.5 L1430 2186.0 L1450 2187.0 L1470 2188.2 L1490 2189.7 L1510 2191.3 L1530 2193.0 L1550 2194.6 L1570 2196.2 L1590 2197.6 L1610 2198.8 L1630 2199.9 L1650 2200.8 L1670 2201.6 L1690 2202.6 L1710 2203.6 L1730 2204.8 L1750 2206.3 L1770 2208.2 L1790 2210.2 L1810 2212.5 L1830 2215.0 L1850 2217.7 L1870 2220.5 L1890 2223.5 L1910 2227.1 L1930 2231.2 L1950 2235.1"/><path d="M-10 1833.5 L10 1836.4 L30 1840.1 L50 1844.6 L70 1849.9 L90 1856.1 L110 1862.9 L130 1870.3 L150 1878.1 L170 1886.2 L190 1894.5 L210 1902.5 L230 1910.2 L250 1917.5 L270 1924.4 L290 1931.0 L310 1936.5 L330 1941.1 L350 1945.5 L370 1949.8 L390 1954.1 L410 1958.4 L430 1963.0 L450 1967.8 L470 1973.0 L490 1978.5 L510 1984.4 L530 1990.7 L550 1997.3 L570 2004.1 L590 2011.0 L610 2018.0 L630 2024.8 L650 2031.4 L670 2037.6 L690 2043.5 L710 2049.0 L730 2054.1 L750 2059.0 L770 2063.7 L790 2068.5 L810 2073.2 L830 2078.2 L850 2083.6 L870 2089.4 L890 2095.7 L910 2102.6 L930 2110.0 L950 2117.9 L970 2126.1 L990 2134.6 L1010 2143.1 L1030 2151.4 L1050 2159.3 L1070 2166.8 L1090 2173.8 L1110 2180.0 L1130 2185.5 L1150 2189.9 L1170 2193.5 L1190 2196.2 L1210 2198.0 L1230 2199.1 L1250 2199.5 L1270 2199.4 L1290 2198.8 L1310 2198.0 L1330 2197.2 L1350 2196.6 L1370 2196.1 L1390 2196.2 L1410 2196.6 L1430 2197.4 L1450 2198.6 L1470 2199.8 L1490 2201.2 L1510 2202.6 L1530 2204.0 L1550 2205.3 L1570 2206.4 L1590 2207.4 L1610 2208.1 L1630 2208.8 L1650 2209.3 L1670 2209.9 L1690 2210.8 L1710 2211.8 L1730 2213.2 L1750 2214.9 L1770 2217.0 L1790 2219.4 L1810 2222.1 L1830 2224.9 L1850 2228.0 L1870 2231.1 L1890 2234.2 L1910 2237.9 L1930 2242.0 L1950 2245.7"/><path d="M-10 1845.2 L10 1848.5 L30 1852.6 L50 1857.5 L70 1863.2 L90 1869.7 L110 1876.7 L130 1884.2 L150 1892.0 L170 1899.9 L190 1907.9 L210 1915.6 L230 1922.9 L250 1929.8 L270 1936.3 L290 1942.4 L310 1947.7 L330 1952.0 L350 1956.3 L370 1960.6 L390 1965.0 L410 1969.6 L430 1974.4 L450 1979.6 L470 1985.2 L490 1991.1 L510 1997.3 L530 2003.8 L550 2010.6 L570 2017.5 L590 2024.3 L610 2031.1 L630 2037.6 L650 2043.8 L670 2049.6 L690 2055.0 L710 2060.0 L730 2064.7 L750 2069.3 L770 2073.8 L790 2078.4 L810 2083.2 L830 2088.3 L850 2093.9 L870 2100.0 L890 2106.6 L910 2113.9 L930 2121.7 L950 2129.9 L970 2138.4 L990 2147.1 L1010 2155.6 L1030 2163.8 L1050 2171.5 L1070 2178.7 L1090 2185.3 L1110 2191.2 L1130 2196.1 L1150 2200.1 L1170 2203.3 L1190 2205.7 L1210 2207.3 L1230 2208.2 L1250 2208.6 L1270 2208.6 L1290 2208.3 L1310 2207.8 L1330 2207.4 L1350 2207.1 L1370 2207.0 L1390 2207.4 L1410 2208.1 L1430 2209.1 L1450 2210.2 L1470 2211.4 L1490 2212.6 L1510 2213.7 L1530 2214.7 L1550 2215.6 L1570 2216.2 L1590 2216.7 L1610 2217.1 L1630 2217.4 L1650 2217.7 L1670 2218.2 L1690 2219.0 L1710 2220.2 L1730 2221.8 L1750 2223.8 L1770 2226.3 L1790 2229.1 L1810 2232.1 L1830 2235.3 L1850 2238.6 L1870 2241.9 L1890 2245.0 L1910 2248.6 L1930 2252.5 L1950 2256.0"/><path d="M-10 1857.3 L10 1861.0 L30 1865.5 L50 1870.9 L70 1876.9 L90 1883.5 L110 1890.6 L130 1898.0 L150 1905.6 L170 1913.3 L190 1921.0 L210 1928.3 L230 1935.2 L250 1941.7 L270 1947.8 L290 1953.6 L310 1958.6 L330 1962.9 L350 1967.2 L370 1971.6 L390 1976.2 L410 1981.1 L430 1986.3 L450 1991.9 L470 1997.8 L490 2004.0 L510 2010.5 L530 2017.2 L550 2024.0 L570 2030.8 L590 2037.5 L610 2043.9 L630 2050.0 L650 2055.8 L670 2061.2 L690 2066.1 L710 2070.7 L730 2075.1 L750 2079.4 L770 2083.8 L790 2088.4 L810 2093.3 L830 2098.7 L850 2104.5 L870 2111.0 L890 2118.1 L910 2125.7 L930 2133.9 L950 2142.3 L970 2150.9 L990 2159.7 L1010 2168.1 L1030 2176.1 L1050 2183.5 L1070 2190.3 L1090 2196.5 L1110 2201.8 L1130 2206.3 L1150 2210.0 L1170 2212.8 L1190 2214.9 L1210 2216.4 L1230 2217.4 L1250 2217.9 L1270 2218.1 L1290 2218.1 L1310 2218.0 L1330 2217.9 L1350 2218.0 L1370 2218.3 L1390 2218.9 L1410 2219.7 L1430 2220.8 L1450 2221.8 L1470 2222.8 L1490 2223.7 L1510 2224.5 L1530 2225.0 L1550 2225.4 L1570 2225.6 L1590 2225.7 L1610 2225.7 L1630 2225.8 L1650 2226.0 L1670 2226.5 L1690 2227.4 L1710 2228.9 L1730 2230.7 L1750 2233.1 L1770 2236.0 L1790 2239.2 L1810 2242.5 L1830 2245.9 L1850 2249.4 L1870 2252.7 L1890 2255.8 L1910 2259.2 L1930 2262.9 L1950 2266.0"/><path d="M-10 1869.8 L10 1874.0 L30 1878.9 L50 1884.5 L70 1890.7 L90 1897.4 L110 1904.4 L130 1911.7 L150 1919.1 L170 1926.4 L190 1933.7 L210 1940.5 L230 1947.0 L250 1953.1 L270 1958.9 L290 1964.6 L310 1969.5 L330 1973.7 L350 1978.2 L370 1982.8 L390 1987.8 L410 1993.0 L430 1998.6 L450 2004.6 L470 2010.8 L490 2017.3 L510 2023.9 L530 2030.6 L550 2037.4 L570 2043.9 L590 2050.3 L610 2056.3 L630 2062.0 L650 2067.3 L670 2072.3 L690 2076.8 L710 2081.1 L730 2085.2 L750 2089.4 L770 2093.9 L790 2098.6 L810 2103.7 L830 2109.4 L850 2115.6 L870 2122.5 L890 2129.9 L910 2137.9 L930 2146.3 L950 2154.8 L970 2163.5 L990 2172.2 L1010 2180.4 L1030 2188.1 L1050 2195.1 L1070 2201.5 L1090 2207.2 L1110 2212.1 L1130 2216.2 L1150 2219.5 L1170 2222.1 L1190 2224.1 L1210 2225.6 L1230 2226.7 L1250 2227.5 L1270 2228.0 L1290 2228.3 L1310 2228.6 L1330 2228.9 L1350 2229.4 L1370 2229.8 L1390 2230.6 L1410 2231.5 L1430 2232.4 L1450 2233.3 L1470 2234.0 L1490 2234.5 L1510 2234.8 L1530 2234.9 L1550 2234.8 L1570 2234.6 L1590 2234.3 L1610 2234.2 L1630 2234.1 L1650 2234.3 L1670 2235.0 L1690 2236.1 L1710 2237.9 L1730 2240.1 L1750 2242.9 L1770 2246.2 L1790 2249.6 L1810 2253.2 L1830 2256.8 L1850 2260.3 L1870 2263.5 L1890 2266.4 L1910 2269.5 L1930 2272.8 L1950 2275.5"/><path d="M-10 1882.8 L10 1887.3 L30 1892.5 L50 1898.3 L70 1904.6 L90 1911.2 L110 1918.1 L130 1925.1 L150 1932.1 L170 1939.0 L190 1945.9 L210 1952.3 L230 1958.4 L250 1964.3 L270 1969.9 L290 1975.5 L310 1980.4 L330 1984.8 L350 1989.5 L370 1994.4 L390 1999.7 L410 2005.4 L430 2011.4 L450 2017.7 L470 2024.2 L490 2030.8 L510 2037.4 L530 2044.0 L550 2050.5 L570 2056.8 L590 2062.8 L610 2068.4 L630 2073.6 L650 2078.5 L670 2083.0 L690 2087.2 L710 2091.2 L730 2095.3 L750 2099.5 L770 2104.1 L790 2109.0 L810 2114.5 L830 2120.5 L850 2127.1 L870 2134.4 L890 2142.1 L910 2150.4 L930 2158.9 L950 2167.5 L970 2176.1 L990 2184.5 L1010 2192.4 L1030 2199.7 L1050 2206.3 L1070 2212.2 L1090 2217.4 L1110 2221.9 L1130 2225.7 L1150 2228.8 L1170 2231.3 L1190 2233.3 L1210 2235.0 L1230 2236.3 L1250 2237.4 L1270 2238.3 L1290 2239.0 L1310 2239.6 L1330 2240.3 L1350 2241.0 L1370 2241.6 L1390 2242.4 L1410 2243.2 L1430 2243.9 L1450 2244.5 L1470 2244.7 L1490 2244.8 L1510 2244.6 L1530 2244.3 L1550 2243.8 L1570 2243.3 L1590 2242.8 L1610 2242.5 L1630 2242.5 L1650 2242.9 L1670 2243.7 L1690 2245.2 L1710 2247.3 L1730 2249.9 L1750 2253.1 L1770 2256.7 L1790 2260.4 L1810 2264.1 L1830 2267.7 L1850 2271.1 L1870 2274.1 L1890 2276.7 L1910 2279.4 L1930 2282.3 L1950 2284.6"/><path d="M-10 1896.2 L10 1901.0 L30 1906.4 L50 1912.2 L70 1918.4 L90 1924.9 L110 1931.5 L130 1938.1 L150 1944.7 L170 1951.2 L190 1957.7 L210 1963.8 L230 1969.6 L250 1975.2 L270 1980.8 L290 1986.5 L310 1991.6 L330 1996.2 L350 2001.2 L370 2006.5 L390 2012.2 L410 2018.2 L430 2024.5 L450 2031.0 L470 2037.7 L490 2044.3 L510 2050.8 L530 2057.3 L550 2063.4 L570 2069.3 L590 2074.8 L610 2080.0 L630 2084.7 L650 2089.2 L670 2093.4 L690 2097.4 L710 2101.4 L730 2105.4 L750 2109.8 L770 2114.6 L790 2119.9 L810 2125.7 L830 2132.1 L850 2139.1 L870 2146.6 L890 2154.6 L910 2163.0 L930 2171.5 L950 2180.1 L970 2188.4 L990 2196.5 L1010 2204.0 L1030 2210.9 L1050 2217.0 L1070 2222.5 L1090 2227.3 L1110 2231.5 L1130 2235.1 L1150 2238.1 L1170 2240.6 L1190 2242.8 L1210 2244.6 L1230 2246.3 L1250 2247.7 L1270 2249.0 L1290 2250.1 L1310 2251.1 L1330 2252.0 L1350 2252.8 L1370 2253.4 L1390 2254.1 L1410 2254.7 L1430 2255.1 L1450 2255.2 L1470 2255.1 L1490 2254.7 L1510 2254.0 L1530 2253.3 L1550 2252.5 L1570 2251.8 L1590 2251.2 L1610 2251.0 L1630 2251.1 L1650 2251.7 L1670 2252.9 L1690 2254.7 L1710 2257.2 L1730 2260.2 L1750 2263.7 L1770 2267.5 L1790 2271.4 L1810 2275.1 L1830 2278.6 L1850 2281.8 L1870 2284.5 L1890 2286.6 L1910 2288.9 L1930 2291.4 L1950 2293.3"/><path d="M-10 1909.9 L10 1914.8 L30 1920.3 L50 1926.0 L70 1932.1 L90 1938.2 L110 1944.5 L130 1950.7 L150 1956.9 L170 1963.0 L190 1969.1 L210 1974.9 L230 1980.6 L250 1986.1 L270 1991.8 L290 1997.6 L310 2003.0 L330 2007.9 L350 2013.3 L370 2019.0 L390 2025.0 L410 2031.4 L430 2037.9 L450 2044.6 L470 2051.2 L490 2057.7 L510 2064.1 L530 2070.2 L550 2076.0 L570 2081.4 L590 2086.4 L610 2091.1 L630 2095.5 L650 2099.7 L670 2103.6 L690 2107.6 L710 2111.5 L730 2115.7 L750 2120.4 L770 2125.5 L790 2131.1 L810 2137.4 L830 2144.1 L850 2151.4 L870 2159.2 L890 2167.3 L910 2175.7 L930 2184.2 L950 2192.4 L970 2200.5 L990 2208.2 L1010 2215.3 L1030 2221.6 L1050 2227.3 L1070 2232.4 L1090 2236.9 L1110 2240.9 L1130 2244.4 L1150 2247.4 L1170 2250.1 L1190 2252.5 L1210 2254.7 L1230 2256.7 L1250 2258.5 L1270 2260.2 L1290 2261.6 L1310 2262.8 L1330 2263.8 L1350 2264.6 L1370 2265.2 L1390 2265.6 L1410 2265.9 L1430 2265.9 L1450 2265.6 L1470 2265.0 L1490 2264.1 L1510 2263.1 L1530 2262.0 L1550 2261.0 L1570 2260.2 L1590 2259.7 L1610 2259.6 L1630 2259.9 L1650 2260.9 L1670 2262.4 L1690 2264.7 L1710 2267.5 L1730 2270.8 L1750 2274.5 L1770 2278.5 L1790 2282.4 L1810 2286.0 L1830 2289.3 L1850 2292.1 L1870 2294.4 L1890 2296.1 L1910 2298.0 L1930 2300.1 L1950 2301.6"/><path d="M-10 1923.7 L10 1928.7 L30 1934.1 L50 1939.7 L70 1945.4 L90 1951.2 L110 1957.1 L130 1962.9 L150 1968.6 L170 1974.4 L190 1980.2 L210 1985.9 L230 1991.5 L250 1997.1 L270 2002.9 L290 2009.1 L310 2014.8 L330 2020.1 L350 2025.8 L370 2031.9 L390 2038.3 L410 2044.9 L430 2051.5 L450 2058.2 L470 2064.7 L490 2071.0 L510 2077.0 L530 2082.7 L550 2088.0 L570 2093.0 L590 2097.6 L610 2101.9 L630 2106.0 L650 2109.9 L670 2113.8 L690 2117.8 L710 2121.9 L730 2126.4 L750 2131.3 L770 2136.8 L790 2142.9 L810 2149.4 L830 2156.5 L850 2164.0 L870 2171.9 L890 2180.1 L910 2188.4 L930 2196.6 L950 2204.5 L970 2212.2 L990 2219.4 L1010 2226.0 L1030 2231.9 L1050 2237.2 L1070 2242.0 L1090 2246.3 L1110 2250.2 L1130 2253.8 L1150 2256.9 L1170 2259.8 L1190 2262.6 L1210 2265.2 L1230 2267.6 L1250 2269.8 L1270 2271.7 L1290 2273.4 L1310 2274.7 L1330 2275.7 L1350 2276.4 L1370 2276.7 L1390 2276.8 L1410 2276.7 L1430 2276.3 L1450 2275.5 L1470 2274.4 L1490 2273.2 L1510 2271.9 L1530 2270.6 L1550 2269.5 L1570 2268.7 L1590 2268.4 L1610 2268.5 L1630 2269.2 L1650 2270.5 L1670 2272.4 L1690 2275.1 L1710 2278.2 L1730 2281.8 L1750 2285.6 L1770 2289.5 L1790 2293.3 L1810 2296.7 L1830 2299.7 L1850 2302.1 L1870 2303.9 L1890 2305.2 L1910 2306.6 L1930 2308.3 L1950 2309.6"/><path d="M-10 1937.6 L10 1942.5 L30 1947.7 L50 1953.0 L70 1958.4 L90 1963.8 L110 1969.2 L130 1974.6 L150 1980.0 L170 1985.5 L190 1991.1 L210 1996.8 L230 2002.4 L250 2008.3 L270 2014.4 L290 2020.9 L310 2027.0 L330 2032.7 L350 2038.8 L370 2045.2 L390 2051.8 L410 2058.5 L430 2065.2 L450 2071.7 L470 2078.0 L490 2084.0 L510 2089.6 L530 2094.8 L550 2099.7 L570 2104.2 L590 2108.4 L610 2112.4 L630 2116.3 L650 2120.2 L670 2124.1 L690 2128.2 L710 2132.6 L730 2137.4 L750 2142.7 L770 2148.6 L790 2155.0 L810 2161.9 L830 2169.2 L850 2176.8 L870 2184.7 L890 2192.8 L910 2200.8 L930 2208.7 L950 2216.2 L970 2223.4 L990 2230.2 L1010 2236.4 L1030 2241.9 L1050 2246.9 L1070 2251.5 L1090 2255.7 L1110 2259.7 L1130 2263.3 L1150 2266.7 L1170 2270.0 L1190 2273.1 L1210 2276.1 L1230 2278.8 L1250 2281.4 L1270 2283.5 L1290 2285.3 L1310 2286.6 L1330 2287.5 L1350 2288.0 L1370 2288.0 L1390 2287.7 L1410 2287.1 L1430 2286.2 L1450 2285.0 L1470 2283.5 L1490 2282.0 L1510 2280.5 L1530 2279.1 L1550 2278.1 L1570 2277.5 L1590 2277.4 L1610 2277.8 L1630 2278.9 L1650 2280.6 L1670 2282.9 L1690 2285.8 L1710 2289.2 L1730 2292.8 L1750 2296.7 L1770 2300.5 L1790 2304.0 L1810 2307.1 L1830 2309.6 L1850 2311.6 L1870 2313.0 L1890 2313.8 L1910 2314.9 L1930 2316.3 L1950 2317.4"/></g>
<g opacity="0.6"><path d="M0 24 Q8 10 22 0"/><path d="M0 41 Q14 18 37 0"/><path d="M0 58 Q20 26 53 0"/><path d="M0 75 Q26 33 69 0"/><path d="M0 92 Q32 41 84 0"/><path d="M0 109 Q38 49 100 0"/><path d="M0 126 Q44 56 115 0"/><path d="M0 143 Q50 64 131 0"/></g>
</g></svg>
<div class="card"><div class="band" style="top:183.9px;height:98.5px"></div><div class="band" style="top:836.6px;height:98.9px"></div></div>
<span class="t" style="left:64.25px;top:74.99px;font-size:61.48px;color:#17508a;font-weight:700;-webkit-text-stroke-width:1.50px;transform:scaleX(0.9391);">NUTRITIONAL</span>
<span class="t" style="left:475.87px;top:74.99px;font-size:61.48px;color:#17508a;font-weight:700;-webkit-text-stroke-width:1.50px;transform:scaleX(0.9634);">INFORMATION</span>
<span class="t" style="left:901.95px;top:95.77px;font-size:35.18px;color:#17508a;font-weight:700;-webkit-text-stroke-width:0.90px;transform:scaleX(0.8000);">(</span>
<span class="t" style="left:925.08px;top:95.77px;font-size:35.18px;color:#17508a;font-weight:700;-webkit-text-stroke-width:0.90px;transform:scaleX(1.0700);">Approximate</span>
<span class="t" style="left:1168.49px;top:95.77px;font-size:35.18px;color:#17508a;font-weight:700;-webkit-text-stroke-width:0.90px;transform:scaleX(1.0895);">Value)</span>
<span class="t" style="left:68.12px;top:159.53px;font-size:37.65px;-webkit-text-stroke-width:1.20px;transform:scaleX(0.9492);">SERVING</span>
<span class="t" style="left:238.95px;top:159.53px;font-size:37.65px;-webkit-text-stroke-width:1.20px;transform:scaleX(0.8861);">SIZE:</span>
<span class="t" style="left:330.95px;top:159.53px;font-size:37.65px;-webkit-text-stroke-width:1.20px;transform:scaleX(0.8000);">1</span>
<span class="t" style="left:356.82px;top:159.53px;font-size:37.65px;-webkit-text-stroke-width:1.20px;transform:scaleX(1.0335);">Level</span>
<span class="t" style="left:461.28px;top:159.53px;font-size:37.65px;-webkit-text-stroke-width:1.20px;transform:scaleX(1.0534);">Scoops</span>
<span class="t" style="left:604.81px;top:159.53px;font-size:37.65px;-webkit-text-stroke-width:1.20px;transform:scaleX(1.0653);">(8gm</span>
<span class="t" style="left:709.14px;top:159.53px;font-size:37.65px;-webkit-text-stroke-width:1.20px;transform:scaleX(1.0665);">Approx)</span>
<span class="t" style="left:1091.28px;top:159.63px;font-size:37.65px;-webkit-text-stroke-width:1.20px;transform:scaleX(1.0588);">Serving</span>
<span class="t" style="left:1239.14px;top:159.63px;font-size:37.65px;-webkit-text-stroke-width:1.20px;transform:scaleX(1.0669);">Per</span>
<span class="t" style="left:1312.87px;top:159.63px;font-size:37.65px;-webkit-text-stroke-width:1.20px;transform:scaleX(1.0700);">Container:</span>
<span class="t" style="left:1511.30px;top:159.63px;font-size:37.65px;-webkit-text-stroke-width:1.20px;transform:scaleX(1.0113);">30</span>
<span class="t" style="left:65.15px;top:247.26px;font-size:53.20px;color:#ffffff;font-weight:700;-webkit-text-stroke-width:1.00px;transform:scaleX(0.9006);">NUTRIENT</span>
<span class="t" style="left:767.94px;top:252.49px;font-size:39.61px;color:#ffffff;font-weight:700;-webkit-text-stroke-width:0.35px;transform:scaleX(0.9271);">QTY</span>
<span class="t" style="left:866.11px;top:252.49px;font-size:39.61px;color:#ffffff;font-weight:700;-webkit-text-stroke-width:0.35px;transform:scaleX(1.0376);">100gm</span>
<span class="t" style="left:1106.13px;top:252.49px;font-size:39.61px;color:#ffffff;font-weight:700;-webkit-text-stroke-width:0.35px;transform:scaleX(0.9334);">QTY</span>
<span class="t" style="left:1206.59px;top:252.49px;font-size:39.61px;color:#ffffff;font-weight:700;-webkit-text-stroke-width:0.35px;transform:scaleX(0.9864);">Serving</span>
<span class="t" style="left:1435.66px;top:254.67px;font-size:39.75px;color:#ffffff;font-weight:700;-webkit-text-stroke-width:0.35px;transform:scaleX(0.9042);">%RDA</span>
<span class="t" style="left:767.94px;top:906.99px;font-size:39.61px;color:#ffffff;font-weight:700;-webkit-text-stroke-width:0.35px;transform:scaleX(0.9271);">QTY</span>
<span class="t" style="left:866.11px;top:906.99px;font-size:39.61px;color:#ffffff;font-weight:700;-webkit-text-stroke-width:0.35px;transform:scaleX(1.0376);">100gm</span>
<span class="t" style="left:1106.13px;top:906.99px;font-size:39.61px;color:#ffffff;font-weight:700;-webkit-text-stroke-width:0.35px;transform:scaleX(0.9334);">QTY</span>
<span class="t" style="left:1206.59px;top:906.99px;font-size:39.61px;color:#ffffff;font-weight:700;-webkit-text-stroke-width:0.35px;transform:scaleX(0.9864);">Serving</span>
<span class="t" style="left:1435.66px;top:909.17px;font-size:39.75px;color:#ffffff;font-weight:700;-webkit-text-stroke-width:0.35px;transform:scaleX(0.9042);">%RDA</span>
<span class="t" style="left:62.74px;top:900.63px;font-size:53.34px;color:#ffffff;font-weight:700;-webkit-text-stroke-width:0.80px;transform:scaleX(0.9857);">Ingredients</span>
<span class="t" style="left:62.58px;top:345.24px;font-size:42.30px;transform:scaleX(1.0304);">Energy (Kcal)</span>
<span class="t" style="left:62.51px;top:412.64px;font-size:42.30px;transform:scaleX(1.0590);">Protien (g)</span>
<span class="t" style="left:64.91px;top:480.24px;font-size:42.30px;transform:scaleX(1.0956);">Carbohydrates (g)</span>
<span class="t" style="left:66.39px;top:547.64px;font-size:42.30px;transform:scaleX(1.0726);">Total Sugar (g)</span>
<span class="t" style="left:68.09px;top:614.64px;font-size:42.30px;transform:scaleX(1.0802);">Added Sugar (g)</span>
<span class="t" style="left:66.39px;top:681.54px;font-size:42.30px;transform:scaleX(1.0749);">Total Fat (g)</span>
<span class="t" style="left:64.94px;top:749.14px;font-size:42.30px;transform:scaleX(1.0748);">Chloesterol (mg)</span>
<span class="t" style="left:67.02px;top:816.34px;font-size:42.30px;transform:scaleX(1.0629);">Sodium (mg)</span>
<span class="t" style="left:831.27px;top:345.85px;font-size:41.57px;transform:scaleX(0.9544);">347.6</span>
<span class="t" style="left:853.36px;top:413.25px;font-size:41.57px;transform:scaleX(1.1308);">60</span>
<span class="t" style="left:856.82px;top:480.85px;font-size:41.57px;transform:scaleX(1.0178);">26</span>
<span class="t" style="left:869.56px;top:548.25px;font-size:41.57px;transform:scaleX(0.9819);">5</span>
<span class="t" style="left:866.78px;top:615.25px;font-size:41.57px;transform:scaleX(1.1493);">0</span>
<span class="t" style="left:849.50px;top:682.15px;font-size:41.57px;transform:scaleX(1.1046);">0.4</span>
<span class="t" style="left:861.99px;top:749.75px;font-size:41.57px;transform:scaleX(0.8000);">&lt;1</span>
<span class="t" style="left:841.68px;top:816.95px;font-size:41.57px;transform:scaleX(1.1139);">700</span>
<span class="t" style="left:1185.49px;top:345.85px;font-size:41.57px;transform:scaleX(0.8334);">27.81</span>
<span class="t" style="left:1198.27px;top:413.25px;font-size:41.57px;transform:scaleX(1.0318);">4.8</span>
<span class="t" style="left:1185.17px;top:480.85px;font-size:41.57px;transform:scaleX(1.0561);">2.08</span>
<span class="t" style="left:1182.80px;top:548.25px;font-size:41.57px;transform:scaleX(1.1067);">0.40</span>
<span class="t" style="left:1214.49px;top:615.25px;font-size:41.57px;transform:scaleX(1.1312);">0</span>
<span class="t" style="left:1172.83px;top:682.15px;font-size:41.57px;transform:scaleX(1.0428);">0.032</span>
<span class="t" style="left:1171.77px;top:749.75px;font-size:41.57px;transform:scaleX(1.0567);">&lt;0.08</span>
<span class="t" style="left:1204.55px;top:816.95px;font-size:41.57px;transform:scaleX(1.0107);">56</span>
<span class="t" style="left:1451.69px;top:345.85px;font-size:41.57px;transform:scaleX(0.9412);">1.39</span>
<span class="t" style="left:1437.56px;top:420.95px;font-size:41.57px;transform:scaleX(0.9971);">10.43</span>
<span class="t" style="left:1463.49px;top:495.95px;font-size:41.57px;transform:scaleX(0.9003);">1.6</span>
<span class="t" style="left:1444.50px;top:619.25px;font-size:41.57px;transform:scaleX(1.1180);">0.00</span>
<span class="t" style="left:1446.22px;top:693.55px;font-size:41.57px;transform:scaleX(1.0716);">0.05</span>
<span class="t" style="left:1446.14px;top:816.95px;font-size:41.57px;transform:scaleX(1.0725);">2.80</span>
<span class="t" style="left:60.10px;top:1009.64px;font-size:42.30px;transform:scaleX(1.1016);">Marine Collagen peptides (g)</span>
<span class="t" style="left:61.14px;top:1076.84px;font-size:42.30px;transform:scaleX(1.0861);">Hyaluronic acid (mg)</span>
<span class="t" style="left:67.39px;top:1143.64px;font-size:42.30px;transform:scaleX(1.0640);">Vitamin C (mg)</span>
<span class="t" style="left:67.37px;top:1211.14px;font-size:42.30px;transform:scaleX(1.0431);">Vitamin E (mg)</span>
<span class="t" style="left:61.15px;top:1278.64px;font-size:42.30px;transform:scaleX(1.0805);">Biotin (mcg)</span>
<span class="t" style="left:838.53px;top:1010.25px;font-size:41.57px;transform:scaleX(1.0142);">62.5</span>
<span class="t" style="left:826.21px;top:1077.45px;font-size:41.57px;transform:scaleX(1.0256);">662.5</span>
<span class="t" style="left:841.19px;top:1144.25px;font-size:41.57px;transform:scaleX(1.1357);">500</span>
<span class="t" style="left:847.72px;top:1211.75px;font-size:41.57px;transform:scaleX(0.9302);">125</span>
<span class="t" style="left:847.87px;top:1279.25px;font-size:41.57px;transform:scaleX(0.9513);">375</span>
<span class="t" style="left:1217.26px;top:1010.25px;font-size:41.57px;transform:scaleX(0.9774);">5</span>
<span class="t" style="left:1205.26px;top:1077.45px;font-size:41.57px;transform:scaleX(0.9798);">53</span>
<span class="t" style="left:1202.31px;top:1144.25px;font-size:41.57px;transform:scaleX(1.1035);">40</span>
<span class="t" style="left:1204.28px;top:1211.75px;font-size:41.57px;transform:scaleX(0.9858);">10</span>
<span class="t" style="left:1202.82px;top:1279.25px;font-size:41.57px;transform:scaleX(1.0704);">30</span>
<span class="t" style="left:1440.33px;top:1155.25px;font-size:41.57px;transform:scaleX(0.9471);">61.54</span>
<span class="t" style="left:1452.45px;top:1215.95px;font-size:41.57px;transform:scaleX(1.0403);">100</span>
<span class="t" style="left:1466.91px;top:1279.25px;font-size:41.57px;transform:scaleX(0.9589);">75</span>
<span class="t" style="left:28.85px;top:1387.67px;font-size:37.06px;color:#18508a;font-weight:700;-webkit-text-stroke-width:0.50px;transform:scaleX(1.0586);">Ingredients:</span>
<span class="t" style="left:266.55px;top:1388.03px;font-size:36.34px;-webkit-text-stroke-width:1.00px;transform:scaleX(1.1641);">Marine</span>
<span class="t" style="left:412.70px;top:1388.03px;font-size:36.34px;-webkit-text-stroke-width:1.00px;transform:scaleX(1.1927);">Collagen</span>
<span class="t" style="left:598.98px;top:1388.03px;font-size:36.34px;-webkit-text-stroke-width:1.00px;transform:scaleX(1.1440);">Peptides,</span>
<span class="t" style="left:788.72px;top:1388.03px;font-size:36.34px;-webkit-text-stroke-width:1.00px;transform:scaleX(1.1587);">Orange</span>
<span class="t" style="left:947.68px;top:1388.03px;font-size:36.34px;-webkit-text-stroke-width:1.00px;transform:scaleX(1.0816);">Fruit</span>
<span class="t" style="left:1045.62px;top:1388.03px;font-size:36.34px;-webkit-text-stroke-width:1.00px;transform:scaleX(1.1221);">Powder,</span>
<span class="t" style="left:1210.57px;top:1388.03px;font-size:36.34px;-webkit-text-stroke-width:1.00px;transform:scaleX(1.1394);">Acidity</span>
<span class="t" style="left:1353.26px;top:1388.03px;font-size:36.34px;-webkit-text-stroke-width:1.00px;transform:scaleX(1.1571);">Regulator</span>
<span class="t" style="left:1553.53px;top:1388.03px;font-size:36.34px;-webkit-text-stroke-width:1.00px;transform:scaleX(0.9798);">(INS</span>
<span class="t" style="left:1642.15px;top:1388.03px;font-size:36.34px;-webkit-text-stroke-width:1.00px;transform:scaleX(1.1040);">330),</span>
<span class="t" style="left:1748.24px;top:1388.03px;font-size:36.34px;-webkit-text-stroke-width:1.00px;transform:scaleX(1.1700);">Nature</span>
<span class="t" style="left:28.10px;top:1436.13px;font-size:36.34px;-webkit-text-stroke-width:1.00px;transform:scaleX(1.2200);">Identical</span>
<span class="t" style="left:203.30px;top:1436.13px;font-size:36.34px;-webkit-text-stroke-width:1.00px;transform:scaleX(1.1357);">Flavouring</span>
<span class="t" style="left:407.73px;top:1436.13px;font-size:36.34px;-webkit-text-stroke-width:1.00px;transform:scaleX(1.1474);">Substance,</span>
<span class="t" style="left:630.59px;top:1436.13px;font-size:36.34px;-webkit-text-stroke-width:1.00px;transform:scaleX(1.1792);">Anti-Caking</span>
<span class="t" style="left:863.87px;top:1436.13px;font-size:36.34px;-webkit-text-stroke-width:1.00px;transform:scaleX(1.1415);">Agent</span>
<span class="t" style="left:985.22px;top:1436.13px;font-size:36.34px;-webkit-text-stroke-width:1.00px;transform:scaleX(0.9840);">(INS</span>
<span class="t" style="left:1067.23px;top:1436.13px;font-size:36.34px;-webkit-text-stroke-width:1.00px;transform:scaleX(0.9484);">551),</span>
<span class="t" style="left:1156.14px;top:1436.13px;font-size:36.34px;-webkit-text-stroke-width:1.00px;transform:scaleX(1.1248);">Sodium</span>
<span class="t" style="left:1306.12px;top:1436.13px;font-size:36.34px;-webkit-text-stroke-width:1.00px;transform:scaleX(1.1596);">Chloride,</span>
<span class="t" style="left:1482.22px;top:1436.13px;font-size:36.34px;-webkit-text-stroke-width:1.00px;transform:scaleX(1.1865);">Natural</span>
<span class="t" style="left:1630.99px;top:1436.13px;font-size:36.34px;-webkit-text-stroke-width:1.00px;transform:scaleX(1.1382);">Food</span>
<span class="t" style="left:1735.44px;top:1436.13px;font-size:36.34px;-webkit-text-stroke-width:1.00px;transform:scaleX(1.1208);">Colours</span>
<span class="t" style="left:30.18px;top:1484.73px;font-size:36.34px;-webkit-text-stroke-width:1.00px;transform:scaleX(1.0128);">[INS</span>
<span class="t" style="left:115.31px;top:1484.73px;font-size:36.34px;-webkit-text-stroke-width:1.00px;transform:scaleX(0.9248);">162,</span>
<span class="t" style="left:191.56px;top:1484.73px;font-size:36.34px;-webkit-text-stroke-width:1.00px;transform:scaleX(0.9768);">INS</span>
<span class="t" style="left:265.29px;top:1484.73px;font-size:36.34px;-webkit-text-stroke-width:1.00px;transform:scaleX(0.9417);">150</span>
<span class="t" style="left:337.70px;top:1484.73px;font-size:36.34px;-webkit-text-stroke-width:1.00px;transform:scaleX(1.2056);">d</span>
<span class="t" style="left:374.51px;top:1484.73px;font-size:36.34px;-webkit-text-stroke-width:1.00px;transform:scaleX(0.9708);">&amp;</span>
<span class="t" style="left:411.84px;top:1484.73px;font-size:36.34px;-webkit-text-stroke-width:1.00px;transform:scaleX(0.9708);">160</span>
<span class="t" style="left:484.52px;top:1484.73px;font-size:36.34px;-webkit-text-stroke-width:1.00px;transform:scaleX(0.9524);">a</span>
<span class="t" style="left:518.32px;top:1484.73px;font-size:36.34px;-webkit-text-stroke-width:1.00px;transform:scaleX(1.1217);">(ii)],</span>
<span class="t" style="left:597.74px;top:1484.73px;font-size:36.34px;-webkit-text-stroke-width:1.00px;transform:scaleX(1.1248);">Sodium</span>
<span class="t" style="left:748.27px;top:1484.73px;font-size:36.34px;-webkit-text-stroke-width:1.00px;transform:scaleX(1.1556);">Hyaluronate,</span>
<span class="t" style="left:996.58px;top:1484.73px;font-size:36.34px;-webkit-text-stroke-width:1.00px;transform:scaleX(1.1441);">L-Ascorbic</span>
<span class="t" style="left:1208.27px;top:1484.73px;font-size:36.34px;-webkit-text-stroke-width:1.00px;transform:scaleX(1.1389);">Acid,</span>
<span class="t" style="left:1311.14px;top:1484.73px;font-size:36.34px;-webkit-text-stroke-width:1.00px;transform:scaleX(1.1269);">Sweetener</span>
<span class="t" style="left:1520.22px;top:1484.73px;font-size:36.34px;-webkit-text-stroke-width:1.00px;transform:scaleX(0.9840);">(INS</span>
<span class="t" style="left:1602.78px;top:1484.73px;font-size:36.34px;-webkit-text-stroke-width:1.00px;transform:scaleX(1.0463);">955),</span>
<span class="t" style="left:1698.97px;top:1484.73px;font-size:36.34px;-webkit-text-stroke-width:1.00px;transform:scaleX(1.1524);">DL-Alpha</span>
<span class="t" style="left:32.27px;top:1533.03px;font-size:36.34px;-webkit-text-stroke-width:1.00px;transform:scaleX(1.1454);">Tocopheryl</span>
<span class="t" style="left:247.28px;top:1533.03px;font-size:36.34px;-webkit-text-stroke-width:1.00px;transform:scaleX(1.1685);">Acetate,</span>
<span class="t" style="left:415.58px;top:1533.03px;font-size:36.34px;-webkit-text-stroke-width:1.00px;transform:scaleX(1.1597);">Annatto</span>
<span class="t" style="left:573.26px;top:1533.03px;font-size:36.34px;-webkit-text-stroke-width:1.00px;transform:scaleX(1.1612);">Extract</span>
<span class="t" style="left:719.41px;top:1533.03px;font-size:36.34px;-webkit-text-stroke-width:1.00px;transform:scaleX(1.1865);">and</span>
<span class="t" style="left:803.21px;top:1533.03px;font-size:36.34px;-webkit-text-stroke-width:1.00px;transform:scaleX(1.1960);">D-Biotin.</span>
<span class="t" style="left:30.96px;top:1601.67px;font-size:37.06px;color:#18508a;font-weight:700;-webkit-text-stroke-width:0.50px;transform:scaleX(1.0354);">Allergen:</span>
<span class="t" style="left:207.72px;top:1602.03px;font-size:36.34px;-webkit-text-stroke-width:1.00px;transform:scaleX(1.1532);">Contains</span>
<span class="t" style="left:385.13px;top:1602.03px;font-size:36.34px;-webkit-text-stroke-width:1.00px;transform:scaleX(1.0439);">Fish</span>
<span class="t" style="left:469.53px;top:1602.03px;font-size:36.34px;-webkit-text-stroke-width:1.00px;transform:scaleX(0.9458);">&amp;</span>
<span class="t" style="left:505.09px;top:1602.03px;font-size:36.34px;-webkit-text-stroke-width:1.00px;transform:scaleX(1.0706);">May</span>
<span class="t" style="left:595.41px;top:1602.03px;font-size:36.34px;-webkit-text-stroke-width:1.00px;transform:scaleX(1.1706);">Contain</span>
<span class="t" style="left:754.46px;top:1602.03px;font-size:36.34px;-webkit-text-stroke-width:1.00px;transform:scaleX(1.0717);">Soy.</span>
<span class="t" style="left:838.34px;top:1602.03px;font-size:36.34px;-webkit-text-stroke-width:1.00px;transform:scaleX(1.1096);">Milk,</span>
<span class="t" style="left:932.72px;top:1602.03px;font-size:36.34px;-webkit-text-stroke-width:1.00px;transform:scaleX(1.1568);">Oats</span>
<span class="t" style="left:1034.51px;top:1602.03px;font-size:36.34px;-webkit-text-stroke-width:1.00px;transform:scaleX(0.9708);">&amp;</span>
<span class="t" style="left:1071.65px;top:1602.03px;font-size:36.34px;-webkit-text-stroke-width:1.00px;transform:scaleX(1.1030);">Barley</span>
<span class="t" style="left:31.20px;top:1666.43px;font-size:36.34px;-webkit-text-stroke-width:1.00px;transform:scaleX(1.0078);">#%RDA</span>
<span class="t" style="left:186.26px;top:1666.43px;font-size:36.34px;-webkit-text-stroke-width:1.00px;transform:scaleX(1.1159);">values</span>
<span class="t" style="left:324.95px;top:1666.43px;font-size:36.34px;-webkit-text-stroke-width:1.00px;transform:scaleX(1.1671);">per</span>
<span class="t" style="left:410.13px;top:1666.43px;font-size:36.34px;-webkit-text-stroke-width:1.00px;transform:scaleX(1.1401);">serving</span>
<span class="t" style="left:563.91px;top:1666.43px;font-size:36.34px;-webkit-text-stroke-width:1.00px;transform:scaleX(1.1934);">based</span>
<span class="t" style="left:703.43px;top:1666.43px;font-size:36.34px;-webkit-text-stroke-width:1.00px;transform:scaleX(1.1334);">on</span>
<span class="t" style="left:771.71px;top:1666.43px;font-size:36.34px;-webkit-text-stroke-width:1.00px;transform:scaleX(1.1858);">2000</span>
<span class="t" style="left:889.97px;top:1666.43px;font-size:36.34px;-webkit-text-stroke-width:1.00px;transform:scaleX(1.1539);">kcal</span>
<span class="t" style="left:986.10px;top:1666.43px;font-size:36.34px;-webkit-text-stroke-width:1.00px;transform:scaleX(1.1970);">diet</span>
<span class="t" style="left:1082.24px;top:1666.43px;font-size:36.34px;-webkit-text-stroke-width:1.00px;transform:scaleX(1.0763);">for</span>
<span class="t" style="left:1152.71px;top:1666.43px;font-size:36.34px;-webkit-text-stroke-width:1.00px;transform:scaleX(1.1767);">adults</span>
<span class="t" style="left:1289.40px;top:1666.43px;font-size:36.34px;-webkit-text-stroke-width:1.00px;transform:scaleX(1.1985);">and</span>
<span class="t" style="left:1384.53px;top:1666.43px;font-size:36.34px;-webkit-text-stroke-width:1.00px;transform:scaleX(1.0503);">AICMR</span>
<span class="t" style="left:1528.73px;top:1666.43px;font-size:36.34px;-webkit-text-stroke-width:1.00px;transform:scaleX(1.1305);">2020</span>
<span class="t" style="left:1643.85px;top:1666.43px;font-size:36.34px;-webkit-text-stroke-width:1.00px;transform:scaleX(1.1017);">for</span>
<span class="t" style="left:1715.58px;top:1666.43px;font-size:36.34px;-webkit-text-stroke-width:1.00px;transform:scaleX(1.1670);">Women-</span>
<span class="t" style="left:31.13px;top:1714.73px;font-size:36.34px;-webkit-text-stroke-width:1.00px;transform:scaleX(1.1313);">Sedentary</span>
<span class="t" style="left:237.26px;top:1714.73px;font-size:36.34px;-webkit-text-stroke-width:1.00px;transform:scaleX(1.1216);">Work.</span>
<span class="t" style="left:32.19px;top:1763.03px;font-size:36.34px;-webkit-text-stroke-width:1.00px;transform:scaleX(0.9891);">*RDA</span>
<span class="t" style="left:134.93px;top:1763.03px;font-size:36.34px;-webkit-text-stroke-width:1.00px;transform:scaleX(1.1800);">not</span>
<span class="t" style="left:207.71px;top:1763.03px;font-size:36.34px;-webkit-text-stroke-width:1.00px;transform:scaleX(1.1714);">established</span>
<span class="t" style="left:31.29px;top:1812.03px;font-size:36.34px;-webkit-text-stroke-width:1.00px;transform:scaleX(1.1865);">Appropriate</span>
<span class="t" style="left:267.73px;top:1812.03px;font-size:36.34px;-webkit-text-stroke-width:1.00px;transform:scaleX(1.1357);">overages</span>
<span class="t" style="left:451.17px;top:1812.03px;font-size:36.34px;-webkit-text-stroke-width:1.00px;transform:scaleX(1.0672);">of</span>
<span class="t" style="left:498.86px;top:1812.03px;font-size:36.34px;-webkit-text-stroke-width:1.00px;transform:scaleX(1.1250);">vitamins</span>
<span class="t" style="left:663.44px;top:1812.03px;font-size:36.34px;-webkit-text-stroke-width:1.00px;transform:scaleX(1.1247);">are</span>
<span class="t" style="left:736.61px;top:1812.03px;font-size:36.34px;-webkit-text-stroke-width:1.00px;transform:scaleX(1.2200);">added</span>
<span class="t" style="left:872.31px;top:1812.03px;font-size:36.34px;-webkit-text-stroke-width:1.00px;transform:scaleX(1.2162);">to</span>
<span class="t" style="left:921.12px;top:1812.03px;font-size:36.34px;-webkit-text-stroke-width:1.00px;transform:scaleX(1.1693);">compensate</span>
<span class="t" style="left:1166.57px;top:1812.03px;font-size:36.34px;-webkit-text-stroke-width:1.00px;transform:scaleX(1.1392);">the</span>
<span class="t" style="left:1236.74px;top:1812.03px;font-size:36.34px;-webkit-text-stroke-width:1.00px;transform:scaleX(1.0410);">loss</span>
<span class="t" style="left:1316.78px;top:1812.03px;font-size:36.34px;-webkit-text-stroke-width:1.00px;transform:scaleX(1.0479);">of</span>
<span class="t" style="left:1362.52px;top:1812.03px;font-size:36.34px;-webkit-text-stroke-width:1.00px;transform:scaleX(1.1859);">potency</span>
<span class="t" style="left:1527.71px;top:1812.03px;font-size:36.34px;-webkit-text-stroke-width:1.00px;transform:scaleX(1.1713);">during</span>
<span class="t" style="left:1657.71px;top:1812.03px;font-size:36.34px;-webkit-text-stroke-width:1.00px;transform:scaleX(1.1703);">storage.</span>
<span class="t" style="left:1637.64px;top:1342.35px;font-size:42.00px;color:#15508a;-webkit-text-stroke-width:1.50px;transform:rotate(-90deg) scaleX(1.0781);">Given</span>
<span class="t" style="left:1637.64px;top:1211.17px;font-size:42.00px;color:#15508a;-webkit-text-stroke-width:1.50px;transform:rotate(-90deg) scaleX(1.0919);">claims</span>
<span class="t" style="left:1637.64px;top:1065.27px;font-size:42.00px;color:#15508a;-webkit-text-stroke-width:1.50px;transform:rotate(-90deg) scaleX(1.0795);">are</span>
<span class="t" style="left:1637.64px;top:981.88px;font-size:42.00px;color:#15508a;-webkit-text-stroke-width:1.50px;transform:rotate(-90deg) scaleX(1.1069);">based</span>
<span class="t" style="left:1637.64px;top:839.96px;font-size:42.00px;color:#15508a;-webkit-text-stroke-width:1.50px;transform:rotate(-90deg) scaleX(1.0411);">on</span>
<span class="t" style="left:1637.64px;top:773.98px;font-size:42.00px;color:#15508a;-webkit-text-stroke-width:1.50px;transform:rotate(-90deg) scaleX(1.1162);">scientific</span>
<span class="t" style="left:1637.64px;top:576.92px;font-size:42.00px;color:#15508a;-webkit-text-stroke-width:1.50px;transform:rotate(-90deg) scaleX(1.1359);">literature</span>
<span class="t" style="left:1637.64px;top:372.78px;font-size:42.00px;color:#15508a;-webkit-text-stroke-width:1.50px;transform:rotate(-90deg) scaleX(1.1296);">available</span>
<span class="t" style="left:1637.64px;top:167.07px;font-size:42.00px;color:#15508a;-webkit-text-stroke-width:1.50px;transform:rotate(-90deg) scaleX(1.0767);">on</span>
<span class="t" style="left:1691.04px;top:1340.57px;font-size:42.00px;color:#15508a;-webkit-text-stroke-width:1.50px;transform:rotate(-90deg) scaleX(1.0179);">used</span>
<span class="t" style="left:1691.04px;top:1232.49px;font-size:42.00px;color:#15508a;-webkit-text-stroke-width:1.50px;transform:rotate(-90deg) scaleX(1.1095);">ingredients</span>
<span class="t" style="left:1691.04px;top:990.04px;font-size:42.00px;color:#15508a;-webkit-text-stroke-width:1.50px;transform:rotate(-90deg) scaleX(0.9544);">&amp;</span>
<span class="t" style="left:1691.04px;top:948.77px;font-size:42.00px;color:#15508a;-webkit-text-stroke-width:1.50px;transform:rotate(-90deg) scaleX(1.0728);">are</span>
<span class="t" style="left:1691.04px;top:868.91px;font-size:42.00px;color:#15508a;-webkit-text-stroke-width:1.50px;transform:rotate(-90deg) scaleX(1.1252);">ingredients</span>
<span class="t" style="left:1691.04px;top:622.49px;font-size:42.00px;color:#15508a;-webkit-text-stroke-width:1.50px;transform:rotate(-90deg) scaleX(1.1114);">based</span>
<span class="t" style="left:1691.04px;top:481.87px;font-size:42.00px;color:#15508a;-webkit-text-stroke-width:1.50px;transform:rotate(-90deg) scaleX(1.0988);">claims.</span>
<i class="d" style="left:1471.1px;top:576.1px"></i><i class="d" style="left:1493.7px;top:576.1px"></i><i class="d" style="left:1471.1px;top:774.8px"></i><i class="d" style="left:1493.7px;top:774.8px"></i><i class="d" style="left:1470.5px;top:1037.4px"></i><i class="d" style="left:1493.1px;top:1037.4px"></i><i class="d" style="left:1470.5px;top:1101.4px"></i><i class="d" style="left:1493.1px;top:1101.4px"></i>
<svg class="wv" width="1946" height="1946" viewBox="0 0 1946 1946"><g stroke="#fff" stroke-width="2.3"><line x1="847.9" y1="290.0" x2="865.3" y2="254.6"/><line x1="1187.0" y1="290.0" x2="1204.2" y2="254.3"/><line x1="847.9" y1="944.5" x2="865.3" y2="909.1"/><line x1="1187.0" y1="944.5" x2="1204.2" y2="908.8"/></g></svg>
</body></html>
